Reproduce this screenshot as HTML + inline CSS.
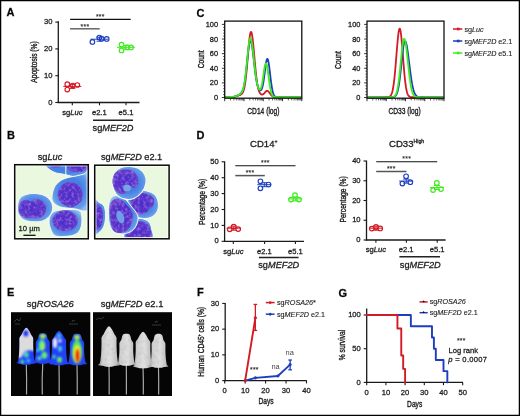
<!DOCTYPE html>
<html><head><meta charset="utf-8"><style>
html,body{margin:0;padding:0;background:#fff;}
svg{display:block;will-change:transform;filter:blur(0.3px);}
text{font-family:"Liberation Sans",sans-serif;stroke:#222;stroke-width:0.28px;}
</style></head><body>
<svg width="520" height="416" viewBox="0 0 520 416">
<rect width="520" height="416" fill="#fff"/>
<text x="6.50" y="16.10" font-size="11.0" text-anchor="start" font-weight="bold" fill="#000"  >A</text>
<text x="7.00" y="139.00" font-size="11.0" text-anchor="start" font-weight="bold" fill="#000"  >B</text>
<text x="196.40" y="16.80" font-size="11.0" text-anchor="start" font-weight="bold" fill="#000"  >C</text>
<text x="196.60" y="139.00" font-size="11.0" text-anchor="start" font-weight="bold" fill="#000"  >D</text>
<text x="7.00" y="296.10" font-size="11.0" text-anchor="start" font-weight="bold" fill="#000"  >E</text>
<text x="196.90" y="296.10" font-size="11.0" text-anchor="start" font-weight="bold" fill="#000"  >F</text>
<text x="338.40" y="296.50" font-size="11.0" text-anchor="start" font-weight="bold" fill="#000"  >G</text>
<line x1="58.30" y1="21.20" x2="58.30" y2="103.10" stroke="#1a1a1a" stroke-width="1.3" />
<line x1="57.70" y1="102.50" x2="139.50" y2="102.50" stroke="#1a1a1a" stroke-width="1.3" />
<line x1="55.30" y1="102.50" x2="58.30" y2="102.50" stroke="#1a1a1a" stroke-width="1.1" />
<text x="52.40" y="104.60" font-size="7.6" text-anchor="end" font-weight="normal" fill="#1a1a1a"  >0</text>
<line x1="55.30" y1="75.70" x2="58.30" y2="75.70" stroke="#1a1a1a" stroke-width="1.1" />
<text x="52.40" y="77.80" font-size="7.6" text-anchor="end" font-weight="normal" fill="#1a1a1a"  >10</text>
<line x1="55.30" y1="48.90" x2="58.30" y2="48.90" stroke="#1a1a1a" stroke-width="1.1" />
<text x="52.40" y="51.00" font-size="7.6" text-anchor="end" font-weight="normal" fill="#1a1a1a"  >20</text>
<line x1="55.30" y1="22.10" x2="58.30" y2="22.10" stroke="#1a1a1a" stroke-width="1.1" />
<text x="52.40" y="24.20" font-size="7.6" text-anchor="end" font-weight="normal" fill="#1a1a1a"  >30</text>
<line x1="72.30" y1="102.50" x2="72.30" y2="105.30" stroke="#1a1a1a" stroke-width="1.1" />
<line x1="99.50" y1="102.50" x2="99.50" y2="105.30" stroke="#1a1a1a" stroke-width="1.1" />
<line x1="126.00" y1="102.50" x2="126.00" y2="105.30" stroke="#1a1a1a" stroke-width="1.1" />
<text x="72.30" y="115.20" font-size="7.6" text-anchor="middle" font-weight="normal" fill="#1a1a1a"  >sg<tspan font-style="italic">Luc</tspan></text>
<text x="99.30" y="115.20" font-size="7.6" text-anchor="middle" font-weight="normal" fill="#1a1a1a"  >e2.1</text>
<text x="126.00" y="115.20" font-size="7.6" text-anchor="middle" font-weight="normal" fill="#1a1a1a"  >e5.1</text>
<line x1="93.00" y1="120.20" x2="133.00" y2="120.20" stroke="#222" stroke-width="1.5" />
<text x="113.00" y="130.60" font-size="9.2" text-anchor="middle" font-weight="normal" fill="#1a1a1a"  >sg<tspan font-style="italic">MEF2D</tspan></text>
<text transform="translate(36.90,62.00) rotate(-90) scale(0.68,1)" font-size="9.8" text-anchor="middle" fill="#1a1a1a" style="stroke-width:0.4px">Apoptosis (%)</text>
<line x1="70.10" y1="19.40" x2="130.70" y2="19.40" stroke="#111" stroke-width="1.1" />
<line x1="70.10" y1="28.80" x2="99.70" y2="28.80" stroke="#666" stroke-width="1.5" />
<text x="100.30" y="18.60" font-size="6.8" text-anchor="middle" font-weight="normal" fill="#222"  letter-spacing="0.3" style="stroke-width:0.1px">***</text>
<text x="85.00" y="28.60" font-size="6.8" text-anchor="middle" font-weight="normal" fill="#222"  letter-spacing="0.3" style="stroke-width:0.1px">***</text>
<circle cx="67.30" cy="84.20" r="2.3" stroke="#d41a24" stroke-width="1.15" fill="none"/>
<circle cx="67.30" cy="89.60" r="2.3" stroke="#d41a24" stroke-width="1.15" fill="none"/>
<circle cx="72.70" cy="85.60" r="2.3" stroke="#d41a24" stroke-width="1.15" fill="none"/>
<circle cx="77.30" cy="85.00" r="2.3" stroke="#d41a24" stroke-width="1.15" fill="none"/>
<line x1="63.30" y1="86.40" x2="81.30" y2="86.40" stroke="#d41a24" stroke-width="1.0" />
<line x1="72.30" y1="84.40" x2="72.30" y2="88.40" stroke="#d41a24" stroke-width="1.0" />
<line x1="69.30" y1="84.40" x2="75.30" y2="84.40" stroke="#d41a24" stroke-width="1.0" />
<line x1="69.30" y1="88.40" x2="75.30" y2="88.40" stroke="#d41a24" stroke-width="1.0" />
<circle cx="92.40" cy="41.90" r="2.3" stroke="#1d3fbf" stroke-width="1.15" fill="none"/>
<circle cx="99.30" cy="37.50" r="2.3" stroke="#1d3fbf" stroke-width="1.15" fill="none"/>
<circle cx="101.60" cy="38.70" r="2.3" stroke="#1d3fbf" stroke-width="1.15" fill="none"/>
<circle cx="106.70" cy="38.90" r="2.3" stroke="#1d3fbf" stroke-width="1.15" fill="none"/>
<line x1="90.50" y1="39.20" x2="108.50" y2="39.20" stroke="#1d3fbf" stroke-width="1.0" />
<line x1="99.50" y1="37.20" x2="99.50" y2="41.20" stroke="#1d3fbf" stroke-width="1.0" />
<line x1="96.50" y1="37.20" x2="102.50" y2="37.20" stroke="#1d3fbf" stroke-width="1.0" />
<line x1="96.50" y1="41.20" x2="102.50" y2="41.20" stroke="#1d3fbf" stroke-width="1.0" />
<circle cx="121.50" cy="44.60" r="2.3" stroke="#3eec1c" stroke-width="1.15" fill="none"/>
<circle cx="121.50" cy="50.40" r="2.3" stroke="#3eec1c" stroke-width="1.15" fill="none"/>
<circle cx="127.30" cy="47.40" r="2.3" stroke="#3eec1c" stroke-width="1.15" fill="none"/>
<circle cx="131.00" cy="47.40" r="2.3" stroke="#3eec1c" stroke-width="1.15" fill="none"/>
<line x1="117.00" y1="47.30" x2="135.00" y2="47.30" stroke="#3eec1c" stroke-width="1.0" />
<line x1="126.00" y1="45.30" x2="126.00" y2="49.30" stroke="#3eec1c" stroke-width="1.0" />
<line x1="123.00" y1="45.30" x2="129.00" y2="45.30" stroke="#3eec1c" stroke-width="1.0" />
<line x1="123.00" y1="49.30" x2="129.00" y2="49.30" stroke="#3eec1c" stroke-width="1.0" />
<path d="M225.70,97.06 L226.20,97.06 L226.70,97.06 L227.20,97.06 L227.70,97.06 L228.20,97.06 L228.70,97.05 L229.20,97.05 L229.70,97.04 L230.20,97.03 L230.70,97.02 L231.20,97.00 L231.70,96.98 L232.20,96.95 L232.70,96.91 L233.20,96.87 L233.70,96.81 L234.20,96.73 L234.70,96.65 L235.20,96.54 L235.70,96.43 L236.20,96.29 L236.70,96.15 L237.20,95.99 L237.70,95.82 L238.20,95.64 L238.70,95.46 L239.20,95.27 L239.70,95.08 L240.20,94.86 L240.70,94.62 L241.20,94.31 L241.70,93.92 L242.20,93.39 L242.70,92.65 L243.20,91.63 L243.70,90.24 L244.20,88.37 L244.70,85.95 L245.20,82.88 L245.70,79.13 L246.20,74.68 L246.70,69.59 L247.20,63.98 L247.70,58.04 L248.20,52.03 L248.70,46.27 L249.20,41.08 L249.70,36.80 L250.20,33.72 L250.70,32.06 L251.20,31.92 L251.70,33.19 L252.20,35.75 L252.70,39.45 L253.20,44.05 L253.70,49.28 L254.20,54.88 L254.70,60.55 L255.20,66.06 L255.70,71.21 L256.20,75.86 L256.70,79.92 L257.20,83.36 L257.70,86.19 L258.20,88.47 L258.70,90.26 L259.20,91.64 L259.70,92.68 L260.20,93.44 L260.70,93.99 L261.20,94.35 L261.70,94.54 L262.20,94.58 L262.70,94.46 L263.20,94.20 L263.70,93.80 L264.20,93.30 L264.70,92.72 L265.20,92.13 L265.70,91.58 L266.20,91.14 L266.70,90.86 L267.20,90.78 L267.70,90.92 L268.20,91.26 L268.70,91.78 L269.20,92.43 L269.70,93.14 L270.20,93.86 L270.70,94.55 L271.20,95.16 L271.70,95.67 L272.20,96.08 L272.70,96.40 L273.20,96.63 L273.70,96.79 L274.20,96.90 L274.70,96.96 L275.20,97.01 L275.70,97.03 L276.20,97.05 L276.70,97.05 L277.20,97.06 L277.70,97.06 L278.20,97.06 L278.70,97.06 L279.20,97.06 L279.70,97.06 L280.20,97.06 L280.70,97.06 L281.20,97.06 L281.70,97.06 L282.20,97.06 L282.70,97.06 L283.20,97.06 L283.70,97.06 L284.20,97.06 L284.70,97.06 L285.20,97.06 L285.70,97.06 L286.20,97.06 L286.70,97.06 L287.20,97.06 L287.70,97.06 L288.20,97.06 L288.70,97.06 L289.20,97.06 L289.70,97.06 L290.20,97.06 L290.70,97.06 L291.20,97.06 L291.70,97.06 L292.20,97.06 L292.70,97.06 L293.20,97.06 L293.70,97.06 L294.20,97.06 L294.70,97.06 L295.20,97.06 L295.70,97.06 L296.20,97.06 L296.70,97.06 L297.20,97.06 L297.70,97.06 L298.20,97.06 L298.70,97.06 L299.20,97.06 L299.70,97.06 L300.20,97.06 L300.70,97.06" stroke="#d41a24" stroke-width="1.8" fill="none" stroke-linejoin="round" stroke-linecap="round" />
<path d="M225.70,97.06 L226.20,97.06 L226.70,97.06 L227.20,97.06 L227.70,97.06 L228.20,97.05 L228.70,97.05 L229.20,97.04 L229.70,97.04 L230.20,97.02 L230.70,97.01 L231.20,96.99 L231.70,96.96 L232.20,96.92 L232.70,96.87 L233.20,96.80 L233.70,96.72 L234.20,96.62 L234.70,96.51 L235.20,96.37 L235.70,96.21 L236.20,96.03 L236.70,95.84 L237.20,95.62 L237.70,95.39 L238.20,95.14 L238.70,94.88 L239.20,94.60 L239.70,94.29 L240.20,93.94 L240.70,93.54 L241.20,93.04 L241.70,92.40 L242.20,91.57 L242.70,90.48 L243.20,89.06 L243.70,87.22 L244.20,84.91 L244.70,82.07 L245.20,78.67 L245.70,74.74 L246.20,70.33 L246.70,65.57 L247.20,60.63 L247.70,55.72 L248.20,51.10 L248.70,47.04 L249.20,43.77 L249.70,41.53 L250.20,40.46 L250.70,40.59 L251.20,41.79 L251.70,43.95 L252.20,46.95 L252.70,50.63 L253.20,54.78 L253.70,59.19 L254.20,63.68 L254.70,68.04 L255.20,72.13 L255.70,75.84 L256.20,79.10 L256.70,81.88 L257.20,84.19 L257.70,86.05 L258.20,87.52 L258.70,88.65 L259.20,89.48 L259.70,90.03 L260.20,90.31 L260.70,90.28 L261.20,89.91 L261.70,89.10 L262.20,87.78 L262.70,85.88 L263.20,83.38 L263.70,80.28 L264.20,76.70 L264.70,72.81 L265.20,68.88 L265.70,65.21 L266.20,62.13 L266.70,59.95 L267.20,58.91 L267.70,59.12 L268.20,60.57 L268.70,63.14 L269.20,66.58 L269.70,70.59 L270.20,74.84 L270.70,79.04 L271.20,82.94 L271.70,86.36 L272.20,89.23 L272.70,91.52 L273.20,93.28 L273.70,94.56 L274.20,95.47 L274.70,96.08 L275.20,96.48 L275.70,96.72 L276.20,96.87 L276.70,96.96 L277.20,97.01 L277.70,97.04 L278.20,97.05 L278.70,97.06 L279.20,97.06 L279.70,97.06 L280.20,97.06 L280.70,97.06 L281.20,97.06 L281.70,97.06 L282.20,97.06 L282.70,97.06 L283.20,97.06 L283.70,97.06 L284.20,97.06 L284.70,97.06 L285.20,97.06 L285.70,97.06 L286.20,97.06 L286.70,97.06 L287.20,97.06 L287.70,97.06 L288.20,97.06 L288.70,97.06 L289.20,97.06 L289.70,97.06 L290.20,97.06 L290.70,97.06 L291.20,97.06 L291.70,97.06 L292.20,97.06 L292.70,97.06 L293.20,97.06 L293.70,97.06 L294.20,97.06 L294.70,97.06 L295.20,97.06 L295.70,97.06 L296.20,97.06 L296.70,97.06 L297.20,97.06 L297.70,97.06 L298.20,97.06 L298.70,97.06 L299.20,97.06 L299.70,97.06 L300.20,97.06 L300.70,97.06" stroke="#1d3fbf" stroke-width="1.8" fill="none" stroke-linejoin="round" stroke-linecap="round" />
<path d="M225.70,97.06 L226.20,97.06 L226.70,97.06 L227.20,97.06 L227.70,97.06 L228.20,97.05 L228.70,97.05 L229.20,97.04 L229.70,97.04 L230.20,97.02 L230.70,97.01 L231.20,96.99 L231.70,96.96 L232.20,96.92 L232.70,96.87 L233.20,96.80 L233.70,96.72 L234.20,96.62 L234.70,96.51 L235.20,96.37 L235.70,96.21 L236.20,96.03 L236.70,95.84 L237.20,95.62 L237.70,95.39 L238.20,95.14 L238.70,94.87 L239.20,94.59 L239.70,94.28 L240.20,93.93 L240.70,93.51 L241.20,93.00 L241.70,92.34 L242.20,91.47 L242.70,90.34 L243.20,88.85 L243.70,86.94 L244.20,84.54 L244.70,81.58 L245.20,78.04 L245.70,73.95 L246.20,69.36 L246.70,64.40 L247.20,59.26 L247.70,54.15 L248.20,49.35 L248.70,45.12 L249.20,41.73 L249.70,39.39 L250.20,38.28 L250.70,38.43 L251.20,39.68 L251.70,41.93 L252.20,45.06 L252.70,48.89 L253.20,53.22 L253.70,57.83 L254.20,62.51 L254.70,67.08 L255.20,71.36 L255.70,75.26 L256.20,78.69 L256.70,81.63 L257.20,84.07 L257.70,86.04 L258.20,87.57 L258.70,88.67 L259.20,89.37 L259.70,89.64 L260.20,89.46 L260.70,88.76 L261.20,87.50 L261.70,85.63 L262.20,83.16 L262.70,80.16 L263.20,76.76 L263.70,73.19 L264.20,69.75 L264.70,66.76 L265.20,64.55 L265.70,63.35 L266.20,63.33 L266.70,64.49 L267.20,66.74 L267.70,69.85 L268.20,73.52 L268.70,77.43 L269.20,81.28 L269.70,84.84 L270.20,87.94 L270.70,90.50 L271.20,92.51 L271.70,94.02 L272.20,95.10 L272.70,95.85 L273.20,96.33 L273.70,96.64 L274.20,96.83 L274.70,96.94 L275.20,97.00 L275.70,97.03 L276.20,97.05 L276.70,97.05 L277.20,97.06 L277.70,97.06 L278.20,97.06 L278.70,97.06 L279.20,97.06 L279.70,97.06 L280.20,97.06 L280.70,97.06 L281.20,97.06 L281.70,97.06 L282.20,97.06 L282.70,97.06 L283.20,97.06 L283.70,97.06 L284.20,97.06 L284.70,97.06 L285.20,97.06 L285.70,97.06 L286.20,97.06 L286.70,97.06 L287.20,97.06 L287.70,97.06 L288.20,97.06 L288.70,97.06 L289.20,97.06 L289.70,97.06 L290.20,97.06 L290.70,97.06 L291.20,97.06 L291.70,97.06 L292.20,97.06 L292.70,97.06 L293.20,97.06 L293.70,97.06 L294.20,97.06 L294.70,97.06 L295.20,97.06 L295.70,97.06 L296.20,97.06 L296.70,97.06 L297.20,97.06 L297.70,97.06 L298.20,97.06 L298.70,97.06 L299.20,97.06 L299.70,97.06 L300.20,97.06 L300.70,97.06" stroke="#3eec1c" stroke-width="1.8" fill="none" stroke-linejoin="round" stroke-linecap="round" />
<rect x="224.7" y="21.1" width="77.10000000000002" height="77.1" fill="none" stroke="#111" stroke-width="1.3"/>
<line x1="221.90" y1="97.50" x2="224.70" y2="97.50" stroke="#1a1a1a" stroke-width="0.9" />
<text x="218.10" y="100.00" font-size="7.4" text-anchor="end" font-weight="normal" fill="#1a1a1a"  >0</text>
<line x1="223.10" y1="94.58" x2="224.70" y2="94.58" stroke="#1a1a1a" stroke-width="0.7" />
<line x1="223.10" y1="91.65" x2="224.70" y2="91.65" stroke="#1a1a1a" stroke-width="0.7" />
<line x1="223.10" y1="88.73" x2="224.70" y2="88.73" stroke="#1a1a1a" stroke-width="0.7" />
<line x1="223.10" y1="85.80" x2="224.70" y2="85.80" stroke="#1a1a1a" stroke-width="0.7" />
<line x1="221.90" y1="82.88" x2="224.70" y2="82.88" stroke="#1a1a1a" stroke-width="0.9" />
<text x="218.10" y="85.38" font-size="7.4" text-anchor="end" font-weight="normal" fill="#1a1a1a"  >20</text>
<line x1="223.10" y1="79.96" x2="224.70" y2="79.96" stroke="#1a1a1a" stroke-width="0.7" />
<line x1="223.10" y1="77.03" x2="224.70" y2="77.03" stroke="#1a1a1a" stroke-width="0.7" />
<line x1="223.10" y1="74.11" x2="224.70" y2="74.11" stroke="#1a1a1a" stroke-width="0.7" />
<line x1="223.10" y1="71.18" x2="224.70" y2="71.18" stroke="#1a1a1a" stroke-width="0.7" />
<line x1="221.90" y1="68.26" x2="224.70" y2="68.26" stroke="#1a1a1a" stroke-width="0.9" />
<text x="218.10" y="70.76" font-size="7.4" text-anchor="end" font-weight="normal" fill="#1a1a1a"  >40</text>
<line x1="223.10" y1="65.34" x2="224.70" y2="65.34" stroke="#1a1a1a" stroke-width="0.7" />
<line x1="223.10" y1="62.41" x2="224.70" y2="62.41" stroke="#1a1a1a" stroke-width="0.7" />
<line x1="223.10" y1="59.49" x2="224.70" y2="59.49" stroke="#1a1a1a" stroke-width="0.7" />
<line x1="223.10" y1="56.56" x2="224.70" y2="56.56" stroke="#1a1a1a" stroke-width="0.7" />
<line x1="221.90" y1="53.64" x2="224.70" y2="53.64" stroke="#1a1a1a" stroke-width="0.9" />
<text x="218.10" y="56.14" font-size="7.4" text-anchor="end" font-weight="normal" fill="#1a1a1a"  >60</text>
<line x1="223.10" y1="50.72" x2="224.70" y2="50.72" stroke="#1a1a1a" stroke-width="0.7" />
<line x1="223.10" y1="47.79" x2="224.70" y2="47.79" stroke="#1a1a1a" stroke-width="0.7" />
<line x1="223.10" y1="44.87" x2="224.70" y2="44.87" stroke="#1a1a1a" stroke-width="0.7" />
<line x1="223.10" y1="41.94" x2="224.70" y2="41.94" stroke="#1a1a1a" stroke-width="0.7" />
<line x1="221.90" y1="39.02" x2="224.70" y2="39.02" stroke="#1a1a1a" stroke-width="0.9" />
<text x="218.10" y="41.52" font-size="7.4" text-anchor="end" font-weight="normal" fill="#1a1a1a"  >80</text>
<line x1="223.10" y1="36.10" x2="224.70" y2="36.10" stroke="#1a1a1a" stroke-width="0.7" />
<line x1="223.10" y1="33.17" x2="224.70" y2="33.17" stroke="#1a1a1a" stroke-width="0.7" />
<line x1="223.10" y1="30.25" x2="224.70" y2="30.25" stroke="#1a1a1a" stroke-width="0.7" />
<line x1="223.10" y1="27.32" x2="224.70" y2="27.32" stroke="#1a1a1a" stroke-width="0.7" />
<line x1="221.90" y1="24.40" x2="224.70" y2="24.40" stroke="#1a1a1a" stroke-width="0.9" />
<text x="218.10" y="26.90" font-size="7.4" text-anchor="end" font-weight="normal" fill="#1a1a1a"  >100</text>
<line x1="224.70" y1="98.20" x2="224.70" y2="101.20" stroke="#1a1a1a" stroke-width="0.9" />
<line x1="230.50" y1="98.20" x2="230.50" y2="100.40" stroke="#1a1a1a" stroke-width="0.7" />
<line x1="233.90" y1="98.20" x2="233.90" y2="100.40" stroke="#1a1a1a" stroke-width="0.7" />
<line x1="236.30" y1="98.20" x2="236.30" y2="100.40" stroke="#1a1a1a" stroke-width="0.7" />
<line x1="238.17" y1="98.20" x2="238.17" y2="100.40" stroke="#1a1a1a" stroke-width="0.7" />
<line x1="239.70" y1="98.20" x2="239.70" y2="100.40" stroke="#1a1a1a" stroke-width="0.7" />
<line x1="240.99" y1="98.20" x2="240.99" y2="100.40" stroke="#1a1a1a" stroke-width="0.7" />
<line x1="242.11" y1="98.20" x2="242.11" y2="100.40" stroke="#1a1a1a" stroke-width="0.7" />
<line x1="243.09" y1="98.20" x2="243.09" y2="100.40" stroke="#1a1a1a" stroke-width="0.7" />
<line x1="243.97" y1="98.20" x2="243.97" y2="101.20" stroke="#1a1a1a" stroke-width="0.9" />
<line x1="249.78" y1="98.20" x2="249.78" y2="100.40" stroke="#1a1a1a" stroke-width="0.7" />
<line x1="253.17" y1="98.20" x2="253.17" y2="100.40" stroke="#1a1a1a" stroke-width="0.7" />
<line x1="255.58" y1="98.20" x2="255.58" y2="100.40" stroke="#1a1a1a" stroke-width="0.7" />
<line x1="257.45" y1="98.20" x2="257.45" y2="100.40" stroke="#1a1a1a" stroke-width="0.7" />
<line x1="258.97" y1="98.20" x2="258.97" y2="100.40" stroke="#1a1a1a" stroke-width="0.7" />
<line x1="260.26" y1="98.20" x2="260.26" y2="100.40" stroke="#1a1a1a" stroke-width="0.7" />
<line x1="261.38" y1="98.20" x2="261.38" y2="100.40" stroke="#1a1a1a" stroke-width="0.7" />
<line x1="262.37" y1="98.20" x2="262.37" y2="100.40" stroke="#1a1a1a" stroke-width="0.7" />
<line x1="263.25" y1="98.20" x2="263.25" y2="101.20" stroke="#1a1a1a" stroke-width="0.9" />
<line x1="269.05" y1="98.20" x2="269.05" y2="100.40" stroke="#1a1a1a" stroke-width="0.7" />
<line x1="272.45" y1="98.20" x2="272.45" y2="100.40" stroke="#1a1a1a" stroke-width="0.7" />
<line x1="274.85" y1="98.20" x2="274.85" y2="100.40" stroke="#1a1a1a" stroke-width="0.7" />
<line x1="276.72" y1="98.20" x2="276.72" y2="100.40" stroke="#1a1a1a" stroke-width="0.7" />
<line x1="278.25" y1="98.20" x2="278.25" y2="100.40" stroke="#1a1a1a" stroke-width="0.7" />
<line x1="279.54" y1="98.20" x2="279.54" y2="100.40" stroke="#1a1a1a" stroke-width="0.7" />
<line x1="280.66" y1="98.20" x2="280.66" y2="100.40" stroke="#1a1a1a" stroke-width="0.7" />
<line x1="281.64" y1="98.20" x2="281.64" y2="100.40" stroke="#1a1a1a" stroke-width="0.7" />
<line x1="282.52" y1="98.20" x2="282.52" y2="101.20" stroke="#1a1a1a" stroke-width="0.9" />
<line x1="288.33" y1="98.20" x2="288.33" y2="100.40" stroke="#1a1a1a" stroke-width="0.7" />
<line x1="291.72" y1="98.20" x2="291.72" y2="100.40" stroke="#1a1a1a" stroke-width="0.7" />
<line x1="294.13" y1="98.20" x2="294.13" y2="100.40" stroke="#1a1a1a" stroke-width="0.7" />
<line x1="296.00" y1="98.20" x2="296.00" y2="100.40" stroke="#1a1a1a" stroke-width="0.7" />
<line x1="297.52" y1="98.20" x2="297.52" y2="100.40" stroke="#1a1a1a" stroke-width="0.7" />
<line x1="298.81" y1="98.20" x2="298.81" y2="100.40" stroke="#1a1a1a" stroke-width="0.7" />
<line x1="299.93" y1="98.20" x2="299.93" y2="100.40" stroke="#1a1a1a" stroke-width="0.7" />
<line x1="300.92" y1="98.20" x2="300.92" y2="100.40" stroke="#1a1a1a" stroke-width="0.7" />
<line x1="301.80" y1="98.20" x2="301.80" y2="101.20" stroke="#1a1a1a" stroke-width="0.9" />
<text transform="translate(203.80,59.40) rotate(-90) scale(0.68,1)" font-size="9.8" text-anchor="middle" fill="#1a1a1a" style="stroke-width:0.4px">Count</text>
<text transform="translate(263.40,113.60) scale(0.68,1)" font-size="9.8" text-anchor="middle" fill="#1a1a1a" style="stroke-width:0.4px">CD14 (log)</text>
<path d="M368.00,97.28 L368.50,97.28 L369.00,97.28 L369.50,97.28 L370.00,97.28 L370.50,97.28 L371.00,97.28 L371.50,97.28 L372.00,97.28 L372.50,97.28 L373.00,97.28 L373.50,97.28 L374.00,97.28 L374.50,97.28 L375.00,97.28 L375.50,97.28 L376.00,97.28 L376.50,97.28 L377.00,97.28 L377.50,97.28 L378.00,97.28 L378.50,97.28 L379.00,97.28 L379.50,97.28 L380.00,97.28 L380.50,97.28 L381.00,97.28 L381.50,97.28 L382.00,97.28 L382.50,97.28 L383.00,97.28 L383.50,97.28 L384.00,97.28 L384.50,97.28 L385.00,97.28 L385.50,97.27 L386.00,97.27 L386.50,97.26 L387.00,97.24 L387.50,97.21 L388.00,97.15 L388.50,97.06 L389.00,96.92 L389.50,96.70 L390.00,96.37 L390.50,95.87 L391.00,95.15 L391.50,94.15 L392.00,92.76 L392.50,90.92 L393.00,88.53 L393.50,85.52 L394.00,81.82 L394.50,77.43 L395.00,72.36 L395.50,66.71 L396.00,60.63 L396.50,54.34 L397.00,48.11 L397.50,42.26 L398.00,37.11 L398.50,32.96 L399.00,30.10 L399.50,28.69 L400.00,28.87 L400.50,30.68 L401.00,34.01 L401.50,38.62 L402.00,44.21 L402.50,50.42 L403.00,56.91 L403.50,63.33 L404.00,69.42 L404.50,74.97 L405.00,79.85 L405.50,83.99 L406.00,87.39 L406.50,90.09 L407.00,92.19 L407.50,93.76 L408.00,94.90 L408.50,95.71 L409.00,96.27 L409.50,96.65 L410.00,96.89 L410.50,97.05 L411.00,97.15 L411.50,97.20 L412.00,97.24 L412.50,97.26 L413.00,97.27 L413.50,97.27 L414.00,97.28 L414.50,97.28 L415.00,97.28 L415.50,97.28 L416.00,97.28 L416.50,97.28 L417.00,97.28 L417.50,97.28 L418.00,97.28 L418.50,97.28 L419.00,97.28 L419.50,97.28 L420.00,97.28 L420.50,97.28 L421.00,97.28 L421.50,97.28 L422.00,97.28 L422.50,97.28 L423.00,97.28 L423.50,97.28 L424.00,97.28 L424.50,97.28 L425.00,97.28 L425.50,97.28 L426.00,97.28 L426.50,97.28 L427.00,97.28 L427.50,97.28 L428.00,97.28 L428.50,97.28 L429.00,97.28 L429.50,97.28 L430.00,97.28 L430.50,97.28 L431.00,97.28 L431.50,97.28 L432.00,97.28 L432.50,97.28 L433.00,97.28 L433.50,97.28 L434.00,97.28 L434.50,97.28 L435.00,97.28 L435.50,97.28 L436.00,97.28 L436.50,97.28 L437.00,97.28 L437.50,97.28 L438.00,97.28 L438.50,97.28 L439.00,97.28 L439.50,97.28 L440.00,97.28 L440.50,97.28 L441.00,97.28 L441.50,97.28 L442.00,97.28 L442.50,97.28 L443.00,97.28" stroke="#d41a24" stroke-width="1.8" fill="none" stroke-linejoin="round" stroke-linecap="round" />
<path d="M368.00,97.28 L368.50,97.28 L369.00,97.28 L369.50,97.28 L370.00,97.28 L370.50,97.28 L371.00,97.28 L371.50,97.28 L372.00,97.28 L372.50,97.28 L373.00,97.28 L373.50,97.28 L374.00,97.28 L374.50,97.28 L375.00,97.28 L375.50,97.28 L376.00,97.28 L376.50,97.28 L377.00,97.28 L377.50,97.28 L378.00,97.28 L378.50,97.28 L379.00,97.28 L379.50,97.28 L380.00,97.28 L380.50,97.28 L381.00,97.28 L381.50,97.28 L382.00,97.28 L382.50,97.28 L383.00,97.28 L383.50,97.28 L384.00,97.28 L384.50,97.28 L385.00,97.28 L385.50,97.28 L386.00,97.28 L386.50,97.28 L387.00,97.28 L387.50,97.28 L388.00,97.28 L388.50,97.28 L389.00,97.28 L389.50,97.28 L390.00,97.27 L390.50,97.27 L391.00,97.26 L391.50,97.25 L392.00,97.22 L392.50,97.19 L393.00,97.12 L393.50,97.03 L394.00,96.88 L394.50,96.66 L395.00,96.33 L395.50,95.87 L396.00,95.22 L396.50,94.33 L397.00,93.15 L397.50,91.61 L398.00,89.66 L398.50,87.25 L399.00,84.33 L399.50,80.91 L400.00,76.99 L400.50,72.65 L401.00,67.99 L401.50,63.14 L402.00,58.30 L402.50,53.67 L403.00,49.47 L403.50,45.93 L404.00,43.24 L404.50,41.57 L405.00,40.99 L405.50,41.39 L406.00,42.57 L406.50,44.47 L407.00,47.03 L407.50,50.13 L408.00,53.67 L408.50,57.51 L409.00,61.52 L409.50,65.58 L410.00,69.57 L410.50,73.40 L411.00,76.99 L411.50,80.29 L412.00,83.25 L412.50,85.85 L413.00,88.11 L413.50,90.02 L414.00,91.61 L414.50,92.92 L415.00,93.97 L415.50,94.81 L416.00,95.46 L416.50,95.96 L417.00,96.33 L417.50,96.61 L418.00,96.81 L418.50,96.96 L419.00,97.06 L419.50,97.14 L420.00,97.19 L420.50,97.22 L421.00,97.24 L421.50,97.26 L422.00,97.27 L422.50,97.27 L423.00,97.27 L423.50,97.28 L424.00,97.28 L424.50,97.28 L425.00,97.28 L425.50,97.28 L426.00,97.28 L426.50,97.28 L427.00,97.28 L427.50,97.28 L428.00,97.28 L428.50,97.28 L429.00,97.28 L429.50,97.28 L430.00,97.28 L430.50,97.28 L431.00,97.28 L431.50,97.28 L432.00,97.28 L432.50,97.28 L433.00,97.28 L433.50,97.28 L434.00,97.28 L434.50,97.28 L435.00,97.28 L435.50,97.28 L436.00,97.28 L436.50,97.28 L437.00,97.28 L437.50,97.28 L438.00,97.28 L438.50,97.28 L439.00,97.28 L439.50,97.28 L440.00,97.28 L440.50,97.28 L441.00,97.28 L441.50,97.28 L442.00,97.28 L442.50,97.28 L443.00,97.28" stroke="#1d3fbf" stroke-width="1.8" fill="none" stroke-linejoin="round" stroke-linecap="round" />
<path d="M368.00,97.28 L368.50,97.28 L369.00,97.28 L369.50,97.28 L370.00,97.28 L370.50,97.28 L371.00,97.28 L371.50,97.28 L372.00,97.28 L372.50,97.28 L373.00,97.28 L373.50,97.28 L374.00,97.28 L374.50,97.28 L375.00,97.28 L375.50,97.28 L376.00,97.28 L376.50,97.28 L377.00,97.28 L377.50,97.28 L378.00,97.28 L378.50,97.28 L379.00,97.28 L379.50,97.28 L380.00,97.28 L380.50,97.28 L381.00,97.28 L381.50,97.28 L382.00,97.28 L382.50,97.28 L383.00,97.28 L383.50,97.28 L384.00,97.28 L384.50,97.28 L385.00,97.28 L385.50,97.28 L386.00,97.28 L386.50,97.28 L387.00,97.28 L387.50,97.28 L388.00,97.28 L388.50,97.28 L389.00,97.28 L389.50,97.28 L390.00,97.27 L390.50,97.26 L391.00,97.25 L391.50,97.23 L392.00,97.19 L392.50,97.12 L393.00,97.02 L393.50,96.87 L394.00,96.63 L394.50,96.28 L395.00,95.78 L395.50,95.07 L396.00,94.09 L396.50,92.78 L397.00,91.07 L397.50,88.89 L398.00,86.19 L398.50,82.94 L399.00,79.12 L399.50,74.79 L400.00,70.01 L400.50,64.93 L401.00,59.73 L401.50,54.62 L402.00,49.85 L402.50,45.67 L403.00,42.33 L403.50,40.03 L404.00,38.90 L404.50,38.99 L405.00,40.15 L405.50,42.30 L406.00,45.33 L406.50,49.07 L407.00,53.36 L407.50,57.99 L408.00,62.77 L408.50,67.51 L409.00,72.07 L409.50,76.32 L410.00,80.16 L410.50,83.56 L411.00,86.48 L411.50,88.93 L412.00,90.94 L412.50,92.56 L413.00,93.82 L413.50,94.80 L414.00,95.53 L414.50,96.07 L415.00,96.45 L415.50,96.73 L416.00,96.92 L416.50,97.05 L417.00,97.13 L417.50,97.19 L418.00,97.22 L418.50,97.25 L419.00,97.26 L419.50,97.27 L420.00,97.27 L420.50,97.28 L421.00,97.28 L421.50,97.28 L422.00,97.28 L422.50,97.28 L423.00,97.28 L423.50,97.28 L424.00,97.28 L424.50,97.28 L425.00,97.28 L425.50,97.28 L426.00,97.28 L426.50,97.28 L427.00,97.28 L427.50,97.28 L428.00,97.28 L428.50,97.28 L429.00,97.28 L429.50,97.28 L430.00,97.28 L430.50,97.28 L431.00,97.28 L431.50,97.28 L432.00,97.28 L432.50,97.28 L433.00,97.28 L433.50,97.28 L434.00,97.28 L434.50,97.28 L435.00,97.28 L435.50,97.28 L436.00,97.28 L436.50,97.28 L437.00,97.28 L437.50,97.28 L438.00,97.28 L438.50,97.28 L439.00,97.28 L439.50,97.28 L440.00,97.28 L440.50,97.28 L441.00,97.28 L441.50,97.28 L442.00,97.28 L442.50,97.28 L443.00,97.28" stroke="#3eec1c" stroke-width="1.8" fill="none" stroke-linejoin="round" stroke-linecap="round" />
<rect x="367.0" y="21.1" width="77.0" height="77.1" fill="none" stroke="#111" stroke-width="1.3"/>
<line x1="364.20" y1="97.50" x2="367.00" y2="97.50" stroke="#1a1a1a" stroke-width="0.9" />
<text x="360.40" y="100.00" font-size="7.4" text-anchor="end" font-weight="normal" fill="#1a1a1a"  >0</text>
<line x1="365.40" y1="94.58" x2="367.00" y2="94.58" stroke="#1a1a1a" stroke-width="0.7" />
<line x1="365.40" y1="91.65" x2="367.00" y2="91.65" stroke="#1a1a1a" stroke-width="0.7" />
<line x1="365.40" y1="88.73" x2="367.00" y2="88.73" stroke="#1a1a1a" stroke-width="0.7" />
<line x1="365.40" y1="85.80" x2="367.00" y2="85.80" stroke="#1a1a1a" stroke-width="0.7" />
<line x1="364.20" y1="82.88" x2="367.00" y2="82.88" stroke="#1a1a1a" stroke-width="0.9" />
<text x="360.40" y="85.38" font-size="7.4" text-anchor="end" font-weight="normal" fill="#1a1a1a"  >20</text>
<line x1="365.40" y1="79.96" x2="367.00" y2="79.96" stroke="#1a1a1a" stroke-width="0.7" />
<line x1="365.40" y1="77.03" x2="367.00" y2="77.03" stroke="#1a1a1a" stroke-width="0.7" />
<line x1="365.40" y1="74.11" x2="367.00" y2="74.11" stroke="#1a1a1a" stroke-width="0.7" />
<line x1="365.40" y1="71.18" x2="367.00" y2="71.18" stroke="#1a1a1a" stroke-width="0.7" />
<line x1="364.20" y1="68.26" x2="367.00" y2="68.26" stroke="#1a1a1a" stroke-width="0.9" />
<text x="360.40" y="70.76" font-size="7.4" text-anchor="end" font-weight="normal" fill="#1a1a1a"  >40</text>
<line x1="365.40" y1="65.34" x2="367.00" y2="65.34" stroke="#1a1a1a" stroke-width="0.7" />
<line x1="365.40" y1="62.41" x2="367.00" y2="62.41" stroke="#1a1a1a" stroke-width="0.7" />
<line x1="365.40" y1="59.49" x2="367.00" y2="59.49" stroke="#1a1a1a" stroke-width="0.7" />
<line x1="365.40" y1="56.56" x2="367.00" y2="56.56" stroke="#1a1a1a" stroke-width="0.7" />
<line x1="364.20" y1="53.64" x2="367.00" y2="53.64" stroke="#1a1a1a" stroke-width="0.9" />
<text x="360.40" y="56.14" font-size="7.4" text-anchor="end" font-weight="normal" fill="#1a1a1a"  >60</text>
<line x1="365.40" y1="50.72" x2="367.00" y2="50.72" stroke="#1a1a1a" stroke-width="0.7" />
<line x1="365.40" y1="47.79" x2="367.00" y2="47.79" stroke="#1a1a1a" stroke-width="0.7" />
<line x1="365.40" y1="44.87" x2="367.00" y2="44.87" stroke="#1a1a1a" stroke-width="0.7" />
<line x1="365.40" y1="41.94" x2="367.00" y2="41.94" stroke="#1a1a1a" stroke-width="0.7" />
<line x1="364.20" y1="39.02" x2="367.00" y2="39.02" stroke="#1a1a1a" stroke-width="0.9" />
<text x="360.40" y="41.52" font-size="7.4" text-anchor="end" font-weight="normal" fill="#1a1a1a"  >80</text>
<line x1="365.40" y1="36.10" x2="367.00" y2="36.10" stroke="#1a1a1a" stroke-width="0.7" />
<line x1="365.40" y1="33.17" x2="367.00" y2="33.17" stroke="#1a1a1a" stroke-width="0.7" />
<line x1="365.40" y1="30.25" x2="367.00" y2="30.25" stroke="#1a1a1a" stroke-width="0.7" />
<line x1="365.40" y1="27.32" x2="367.00" y2="27.32" stroke="#1a1a1a" stroke-width="0.7" />
<line x1="364.20" y1="24.40" x2="367.00" y2="24.40" stroke="#1a1a1a" stroke-width="0.9" />
<text x="360.40" y="26.90" font-size="7.4" text-anchor="end" font-weight="normal" fill="#1a1a1a"  >100</text>
<line x1="367.00" y1="98.20" x2="367.00" y2="101.20" stroke="#1a1a1a" stroke-width="0.9" />
<line x1="372.79" y1="98.20" x2="372.79" y2="100.40" stroke="#1a1a1a" stroke-width="0.7" />
<line x1="376.18" y1="98.20" x2="376.18" y2="100.40" stroke="#1a1a1a" stroke-width="0.7" />
<line x1="378.59" y1="98.20" x2="378.59" y2="100.40" stroke="#1a1a1a" stroke-width="0.7" />
<line x1="380.46" y1="98.20" x2="380.46" y2="100.40" stroke="#1a1a1a" stroke-width="0.7" />
<line x1="381.98" y1="98.20" x2="381.98" y2="100.40" stroke="#1a1a1a" stroke-width="0.7" />
<line x1="383.27" y1="98.20" x2="383.27" y2="100.40" stroke="#1a1a1a" stroke-width="0.7" />
<line x1="384.38" y1="98.20" x2="384.38" y2="100.40" stroke="#1a1a1a" stroke-width="0.7" />
<line x1="385.37" y1="98.20" x2="385.37" y2="100.40" stroke="#1a1a1a" stroke-width="0.7" />
<line x1="386.25" y1="98.20" x2="386.25" y2="101.20" stroke="#1a1a1a" stroke-width="0.9" />
<line x1="392.04" y1="98.20" x2="392.04" y2="100.40" stroke="#1a1a1a" stroke-width="0.7" />
<line x1="395.43" y1="98.20" x2="395.43" y2="100.40" stroke="#1a1a1a" stroke-width="0.7" />
<line x1="397.84" y1="98.20" x2="397.84" y2="100.40" stroke="#1a1a1a" stroke-width="0.7" />
<line x1="399.71" y1="98.20" x2="399.71" y2="100.40" stroke="#1a1a1a" stroke-width="0.7" />
<line x1="401.23" y1="98.20" x2="401.23" y2="100.40" stroke="#1a1a1a" stroke-width="0.7" />
<line x1="402.52" y1="98.20" x2="402.52" y2="100.40" stroke="#1a1a1a" stroke-width="0.7" />
<line x1="403.63" y1="98.20" x2="403.63" y2="100.40" stroke="#1a1a1a" stroke-width="0.7" />
<line x1="404.62" y1="98.20" x2="404.62" y2="100.40" stroke="#1a1a1a" stroke-width="0.7" />
<line x1="405.50" y1="98.20" x2="405.50" y2="101.20" stroke="#1a1a1a" stroke-width="0.9" />
<line x1="411.29" y1="98.20" x2="411.29" y2="100.40" stroke="#1a1a1a" stroke-width="0.7" />
<line x1="414.68" y1="98.20" x2="414.68" y2="100.40" stroke="#1a1a1a" stroke-width="0.7" />
<line x1="417.09" y1="98.20" x2="417.09" y2="100.40" stroke="#1a1a1a" stroke-width="0.7" />
<line x1="418.96" y1="98.20" x2="418.96" y2="100.40" stroke="#1a1a1a" stroke-width="0.7" />
<line x1="420.48" y1="98.20" x2="420.48" y2="100.40" stroke="#1a1a1a" stroke-width="0.7" />
<line x1="421.77" y1="98.20" x2="421.77" y2="100.40" stroke="#1a1a1a" stroke-width="0.7" />
<line x1="422.88" y1="98.20" x2="422.88" y2="100.40" stroke="#1a1a1a" stroke-width="0.7" />
<line x1="423.87" y1="98.20" x2="423.87" y2="100.40" stroke="#1a1a1a" stroke-width="0.7" />
<line x1="424.75" y1="98.20" x2="424.75" y2="101.20" stroke="#1a1a1a" stroke-width="0.9" />
<line x1="430.54" y1="98.20" x2="430.54" y2="100.40" stroke="#1a1a1a" stroke-width="0.7" />
<line x1="433.93" y1="98.20" x2="433.93" y2="100.40" stroke="#1a1a1a" stroke-width="0.7" />
<line x1="436.34" y1="98.20" x2="436.34" y2="100.40" stroke="#1a1a1a" stroke-width="0.7" />
<line x1="438.21" y1="98.20" x2="438.21" y2="100.40" stroke="#1a1a1a" stroke-width="0.7" />
<line x1="439.73" y1="98.20" x2="439.73" y2="100.40" stroke="#1a1a1a" stroke-width="0.7" />
<line x1="441.02" y1="98.20" x2="441.02" y2="100.40" stroke="#1a1a1a" stroke-width="0.7" />
<line x1="442.13" y1="98.20" x2="442.13" y2="100.40" stroke="#1a1a1a" stroke-width="0.7" />
<line x1="443.12" y1="98.20" x2="443.12" y2="100.40" stroke="#1a1a1a" stroke-width="0.7" />
<line x1="444.00" y1="98.20" x2="444.00" y2="101.20" stroke="#1a1a1a" stroke-width="0.9" />
<text transform="translate(340.60,60.00) rotate(-90) scale(0.68,1)" font-size="9.8" text-anchor="middle" fill="#1a1a1a" style="stroke-width:0.4px">Count</text>
<text transform="translate(404.50,113.60) scale(0.68,1)" font-size="9.8" text-anchor="middle" fill="#1a1a1a" style="stroke-width:0.4px">CD33 (log)</text>
<line x1="453.00" y1="29.00" x2="462.30" y2="29.00" stroke="#d41a24" stroke-width="1.5" />
<rect x="456.9" y="27.7" width="2.6" height="2.6" fill="#d41a24"/>
<text x="464.40" y="31.50" font-size="7.2" text-anchor="start" font-weight="normal" fill="#1a1a1a"  style="stroke-width:0.12px">sg<tspan font-style="italic">Luc</tspan></text>
<line x1="453.00" y1="41.00" x2="462.30" y2="41.00" stroke="#1d3fbf" stroke-width="1.5" />
<rect x="456.9" y="39.7" width="2.6" height="2.6" fill="#1d3fbf"/>
<text x="464.40" y="43.50" font-size="7.2" text-anchor="start" font-weight="normal" fill="#1a1a1a"  style="stroke-width:0.12px">sg<tspan font-style="italic">MEF2D</tspan> e2.1</text>
<line x1="453.00" y1="53.00" x2="462.30" y2="53.00" stroke="#3eec1c" stroke-width="1.5" />
<rect x="456.9" y="51.7" width="2.6" height="2.6" fill="#3eec1c"/>
<text x="464.40" y="55.50" font-size="7.2" text-anchor="start" font-weight="normal" fill="#1a1a1a"  style="stroke-width:0.12px">sg<tspan font-style="italic">MEF2D</tspan> e5.1</text>
<line x1="224.60" y1="161.40" x2="224.60" y2="241.90" stroke="#1a1a1a" stroke-width="1.3" />
<line x1="224.00" y1="241.30" x2="304.00" y2="241.30" stroke="#1a1a1a" stroke-width="1.3" />
<line x1="221.60" y1="241.30" x2="224.60" y2="241.30" stroke="#1a1a1a" stroke-width="1.1" />
<text x="218.70" y="243.40" font-size="7.6" text-anchor="end" font-weight="normal" fill="#1a1a1a"  >0</text>
<line x1="221.60" y1="225.40" x2="224.60" y2="225.40" stroke="#1a1a1a" stroke-width="1.1" />
<text x="218.70" y="227.50" font-size="7.6" text-anchor="end" font-weight="normal" fill="#1a1a1a"  >10</text>
<line x1="221.60" y1="209.50" x2="224.60" y2="209.50" stroke="#1a1a1a" stroke-width="1.1" />
<text x="218.70" y="211.60" font-size="7.6" text-anchor="end" font-weight="normal" fill="#1a1a1a"  >20</text>
<line x1="221.60" y1="193.60" x2="224.60" y2="193.60" stroke="#1a1a1a" stroke-width="1.1" />
<text x="218.70" y="195.70" font-size="7.6" text-anchor="end" font-weight="normal" fill="#1a1a1a"  >30</text>
<line x1="221.60" y1="177.70" x2="224.60" y2="177.70" stroke="#1a1a1a" stroke-width="1.1" />
<text x="218.70" y="179.80" font-size="7.6" text-anchor="end" font-weight="normal" fill="#1a1a1a"  >40</text>
<line x1="221.60" y1="161.80" x2="224.60" y2="161.80" stroke="#1a1a1a" stroke-width="1.1" />
<text x="218.70" y="163.90" font-size="7.6" text-anchor="end" font-weight="normal" fill="#1a1a1a"  >50</text>
<line x1="233.30" y1="241.30" x2="233.30" y2="244.10" stroke="#1a1a1a" stroke-width="1.1" />
<line x1="264.60" y1="241.30" x2="264.60" y2="244.10" stroke="#1a1a1a" stroke-width="1.1" />
<line x1="295.40" y1="241.30" x2="295.40" y2="244.10" stroke="#1a1a1a" stroke-width="1.1" />
<text x="233.30" y="253.50" font-size="7.6" text-anchor="middle" font-weight="normal" fill="#1a1a1a"  >sg<tspan font-style="italic">Luc</tspan></text>
<text x="264.40" y="253.50" font-size="7.6" text-anchor="middle" font-weight="normal" fill="#1a1a1a"  >e2.1</text>
<text x="295.40" y="253.50" font-size="7.6" text-anchor="middle" font-weight="normal" fill="#1a1a1a"  >e5.1</text>
<line x1="259.00" y1="257.60" x2="298.60" y2="257.60" stroke="#222" stroke-width="1.5" />
<text x="278.70" y="268.40" font-size="9.2" text-anchor="middle" font-weight="normal" fill="#1a1a1a"  >sg<tspan font-style="italic">MEF2D</tspan></text>
<text transform="translate(204.50,201.90) rotate(-90) scale(0.68,1)" font-size="9.8" text-anchor="middle" fill="#1a1a1a" style="stroke-width:0.4px">Percentage (%)</text>
<text x="250.0" y="146.7" font-size="9.6" fill="#111">CD14<tspan font-size="5.2" dy="-4">+</tspan></text>
<line x1="235.30" y1="165.80" x2="295.50" y2="165.80" stroke="#111" stroke-width="1.1" />
<line x1="235.30" y1="175.60" x2="264.80" y2="175.60" stroke="#555" stroke-width="1.5" />
<text x="265.40" y="165.00" font-size="6.8" text-anchor="middle" font-weight="normal" fill="#222"  letter-spacing="0.3" style="stroke-width:0.1px">***</text>
<text x="250.05" y="175.00" font-size="6.8" text-anchor="middle" font-weight="normal" fill="#222"  letter-spacing="0.3" style="stroke-width:0.1px">***</text>
<circle cx="229.70" cy="229.30" r="2.3" stroke="#d41a24" stroke-width="1.15" fill="none"/>
<circle cx="233.70" cy="226.60" r="2.3" stroke="#d41a24" stroke-width="1.15" fill="none"/>
<circle cx="238.20" cy="229.10" r="2.3" stroke="#d41a24" stroke-width="1.15" fill="none"/>
<line x1="226.70" y1="228.20" x2="240.70" y2="228.20" stroke="#d41a24" stroke-width="1.0" />
<line x1="233.70" y1="226.20" x2="233.70" y2="230.20" stroke="#d41a24" stroke-width="1.0" />
<line x1="230.70" y1="226.20" x2="236.70" y2="226.20" stroke="#d41a24" stroke-width="1.0" />
<line x1="230.70" y1="230.20" x2="236.70" y2="230.20" stroke="#d41a24" stroke-width="1.0" />
<circle cx="260.40" cy="181.30" r="2.3" stroke="#1d3fbf" stroke-width="1.15" fill="none"/>
<circle cx="260.40" cy="188.30" r="2.3" stroke="#1d3fbf" stroke-width="1.15" fill="none"/>
<circle cx="268.50" cy="184.50" r="2.3" stroke="#1d3fbf" stroke-width="1.15" fill="none"/>
<line x1="257.30" y1="184.70" x2="271.30" y2="184.70" stroke="#1d3fbf" stroke-width="1.0" />
<line x1="264.30" y1="182.70" x2="264.30" y2="186.70" stroke="#1d3fbf" stroke-width="1.0" />
<line x1="261.30" y1="182.70" x2="267.30" y2="182.70" stroke="#1d3fbf" stroke-width="1.0" />
<line x1="261.30" y1="186.70" x2="267.30" y2="186.70" stroke="#1d3fbf" stroke-width="1.0" />
<circle cx="295.00" cy="195.20" r="2.3" stroke="#3eec1c" stroke-width="1.15" fill="none"/>
<circle cx="291.00" cy="199.60" r="2.3" stroke="#3eec1c" stroke-width="1.15" fill="none"/>
<circle cx="299.00" cy="199.60" r="2.3" stroke="#3eec1c" stroke-width="1.15" fill="none"/>
<line x1="288.30" y1="198.90" x2="302.30" y2="198.90" stroke="#3eec1c" stroke-width="1.0" />
<line x1="295.30" y1="196.90" x2="295.30" y2="200.90" stroke="#3eec1c" stroke-width="1.0" />
<line x1="292.30" y1="196.90" x2="298.30" y2="196.90" stroke="#3eec1c" stroke-width="1.0" />
<line x1="292.30" y1="200.90" x2="298.30" y2="200.90" stroke="#3eec1c" stroke-width="1.0" />
<line x1="366.50" y1="160.60" x2="366.50" y2="240.60" stroke="#1a1a1a" stroke-width="1.3" />
<line x1="365.90" y1="240.00" x2="445.60" y2="240.00" stroke="#1a1a1a" stroke-width="1.3" />
<line x1="363.50" y1="240.00" x2="366.50" y2="240.00" stroke="#1a1a1a" stroke-width="1.1" />
<text x="360.60" y="242.10" font-size="7.6" text-anchor="end" font-weight="normal" fill="#1a1a1a"  >0</text>
<line x1="363.50" y1="220.25" x2="366.50" y2="220.25" stroke="#1a1a1a" stroke-width="1.1" />
<text x="360.60" y="222.35" font-size="7.6" text-anchor="end" font-weight="normal" fill="#1a1a1a"  >10</text>
<line x1="363.50" y1="200.50" x2="366.50" y2="200.50" stroke="#1a1a1a" stroke-width="1.1" />
<text x="360.60" y="202.60" font-size="7.6" text-anchor="end" font-weight="normal" fill="#1a1a1a"  >20</text>
<line x1="363.50" y1="180.75" x2="366.50" y2="180.75" stroke="#1a1a1a" stroke-width="1.1" />
<text x="360.60" y="182.85" font-size="7.6" text-anchor="end" font-weight="normal" fill="#1a1a1a"  >30</text>
<line x1="363.50" y1="161.00" x2="366.50" y2="161.00" stroke="#1a1a1a" stroke-width="1.1" />
<text x="360.60" y="163.10" font-size="7.6" text-anchor="end" font-weight="normal" fill="#1a1a1a"  >40</text>
<line x1="375.90" y1="240.00" x2="375.90" y2="242.80" stroke="#1a1a1a" stroke-width="1.1" />
<line x1="406.40" y1="240.00" x2="406.40" y2="242.80" stroke="#1a1a1a" stroke-width="1.1" />
<line x1="437.20" y1="240.00" x2="437.20" y2="242.80" stroke="#1a1a1a" stroke-width="1.1" />
<text x="375.90" y="252.20" font-size="7.6" text-anchor="middle" font-weight="normal" fill="#1a1a1a"  >sg<tspan font-style="italic">Luc</tspan></text>
<text x="406.20" y="252.20" font-size="7.6" text-anchor="middle" font-weight="normal" fill="#1a1a1a"  >e2.1</text>
<text x="437.20" y="252.20" font-size="7.6" text-anchor="middle" font-weight="normal" fill="#1a1a1a"  >e5.1</text>
<line x1="399.40" y1="256.80" x2="440.00" y2="256.80" stroke="#222" stroke-width="1.5" />
<text x="420.30" y="267.60" font-size="9.2" text-anchor="middle" font-weight="normal" fill="#1a1a1a"  >sg<tspan font-style="italic">MEF2D</tspan></text>
<text transform="translate(346.30,199.40) rotate(-90) scale(0.68,1)" font-size="9.8" text-anchor="middle" fill="#1a1a1a" style="stroke-width:0.4px">Percentage (%)</text>
<text x="389.0" y="146.8" font-size="9.6" fill="#111">CD33<tspan font-size="5.2" dy="-4">High</tspan></text>
<line x1="376.20" y1="161.70" x2="437.20" y2="161.70" stroke="#111" stroke-width="1.1" />
<line x1="376.20" y1="171.50" x2="406.50" y2="171.50" stroke="#555" stroke-width="1.5" />
<text x="406.70" y="160.90" font-size="6.8" text-anchor="middle" font-weight="normal" fill="#222"  letter-spacing="0.3" style="stroke-width:0.1px">***</text>
<text x="391.35" y="170.90" font-size="6.8" text-anchor="middle" font-weight="normal" fill="#222"  letter-spacing="0.3" style="stroke-width:0.1px">***</text>
<circle cx="371.80" cy="228.60" r="2.3" stroke="#d41a24" stroke-width="1.15" fill="none"/>
<circle cx="376.00" cy="226.90" r="2.3" stroke="#d41a24" stroke-width="1.15" fill="none"/>
<circle cx="380.20" cy="228.40" r="2.3" stroke="#d41a24" stroke-width="1.15" fill="none"/>
<line x1="369.00" y1="228.20" x2="383.00" y2="228.20" stroke="#d41a24" stroke-width="1.0" />
<line x1="376.00" y1="226.20" x2="376.00" y2="230.20" stroke="#d41a24" stroke-width="1.0" />
<line x1="373.00" y1="226.20" x2="379.00" y2="226.20" stroke="#d41a24" stroke-width="1.0" />
<line x1="373.00" y1="230.20" x2="379.00" y2="230.20" stroke="#d41a24" stroke-width="1.0" />
<circle cx="406.10" cy="176.30" r="2.3" stroke="#1d3fbf" stroke-width="1.15" fill="none"/>
<circle cx="402.40" cy="183.50" r="2.3" stroke="#1d3fbf" stroke-width="1.15" fill="none"/>
<circle cx="410.30" cy="182.20" r="2.3" stroke="#1d3fbf" stroke-width="1.15" fill="none"/>
<line x1="399.20" y1="181.10" x2="413.20" y2="181.10" stroke="#1d3fbf" stroke-width="1.0" />
<line x1="406.20" y1="179.10" x2="406.20" y2="183.10" stroke="#1d3fbf" stroke-width="1.0" />
<line x1="403.20" y1="179.10" x2="409.20" y2="179.10" stroke="#1d3fbf" stroke-width="1.0" />
<line x1="403.20" y1="183.10" x2="409.20" y2="183.10" stroke="#1d3fbf" stroke-width="1.0" />
<circle cx="436.80" cy="182.90" r="2.3" stroke="#3eec1c" stroke-width="1.15" fill="none"/>
<circle cx="433.10" cy="190.10" r="2.3" stroke="#3eec1c" stroke-width="1.15" fill="none"/>
<circle cx="441.00" cy="189.00" r="2.3" stroke="#3eec1c" stroke-width="1.15" fill="none"/>
<line x1="430.00" y1="187.50" x2="444.00" y2="187.50" stroke="#3eec1c" stroke-width="1.0" />
<line x1="437.00" y1="185.50" x2="437.00" y2="189.50" stroke="#3eec1c" stroke-width="1.0" />
<line x1="434.00" y1="185.50" x2="440.00" y2="185.50" stroke="#3eec1c" stroke-width="1.0" />
<line x1="434.00" y1="189.50" x2="440.00" y2="189.50" stroke="#3eec1c" stroke-width="1.0" />
<line x1="225.20" y1="302.91" x2="225.20" y2="381.20" stroke="#1a1a1a" stroke-width="1.3" />
<line x1="224.60" y1="380.60" x2="306.80" y2="380.60" stroke="#1a1a1a" stroke-width="1.3" />
<line x1="222.20" y1="380.60" x2="225.20" y2="380.60" stroke="#1a1a1a" stroke-width="1.1" />
<text x="219.30" y="382.70" font-size="7.6" text-anchor="end" font-weight="normal" fill="#1a1a1a"  >0</text>
<line x1="222.20" y1="354.87" x2="225.20" y2="354.87" stroke="#1a1a1a" stroke-width="1.1" />
<text x="219.30" y="356.97" font-size="7.6" text-anchor="end" font-weight="normal" fill="#1a1a1a"  >10</text>
<line x1="222.20" y1="329.14" x2="225.20" y2="329.14" stroke="#1a1a1a" stroke-width="1.1" />
<text x="219.30" y="331.24" font-size="7.6" text-anchor="end" font-weight="normal" fill="#1a1a1a"  >20</text>
<line x1="222.20" y1="303.41" x2="225.20" y2="303.41" stroke="#1a1a1a" stroke-width="1.1" />
<text x="219.30" y="305.51" font-size="7.6" text-anchor="end" font-weight="normal" fill="#1a1a1a"  >30</text>
<line x1="224.70" y1="380.60" x2="224.70" y2="383.40" stroke="#1a1a1a" stroke-width="1.1" />
<text x="224.70" y="393.00" font-size="7.6" text-anchor="middle" font-weight="normal" fill="#1a1a1a"  >0</text>
<line x1="245.15" y1="380.60" x2="245.15" y2="383.40" stroke="#1a1a1a" stroke-width="1.1" />
<text x="245.15" y="393.00" font-size="7.6" text-anchor="middle" font-weight="normal" fill="#1a1a1a"  >10</text>
<line x1="265.60" y1="380.60" x2="265.60" y2="383.40" stroke="#1a1a1a" stroke-width="1.1" />
<text x="265.60" y="393.00" font-size="7.6" text-anchor="middle" font-weight="normal" fill="#1a1a1a"  >20</text>
<line x1="286.05" y1="380.60" x2="286.05" y2="383.40" stroke="#1a1a1a" stroke-width="1.1" />
<text x="286.05" y="393.00" font-size="7.6" text-anchor="middle" font-weight="normal" fill="#1a1a1a"  >30</text>
<line x1="306.50" y1="380.60" x2="306.50" y2="383.40" stroke="#1a1a1a" stroke-width="1.1" />
<text x="306.50" y="393.00" font-size="7.6" text-anchor="middle" font-weight="normal" fill="#1a1a1a"  >40</text>
<text transform="translate(266.00,403.70) scale(0.68,1)" font-size="9.8" text-anchor="middle" fill="#1a1a1a" style="stroke-width:0.4px">Days</text>
<text transform="translate(203.5,341.8) rotate(-90) scale(0.68,1)" font-size="9.8" text-anchor="middle" fill="#1a1a1a" style="stroke-width:0.4px">Human CD45<tspan font-size="5" dy="-3">+</tspan><tspan dy="3"> cells (%)</tspan></text>
<path d="M245.15,380.60 L255.38,317.82" stroke="#d41a24" stroke-width="1.9" fill="none" stroke-linejoin="round" stroke-linecap="round" />
<line x1="255.38" y1="304.44" x2="255.38" y2="330.43" stroke="#d41a24" stroke-width="1.3" />
<line x1="253.57" y1="304.44" x2="257.18" y2="304.44" stroke="#d41a24" stroke-width="1.3" />
<line x1="253.57" y1="330.43" x2="257.18" y2="330.43" stroke="#d41a24" stroke-width="1.3" />
<circle cx="255.38" cy="317.82" r="1.3" stroke="#d41a24" stroke-width="0.5" fill="#d41a24"/>
<path d="M245.15,380.60 L255.38,377.90 L277.87,375.97 L290.14,364.65" stroke="#1d3fbf" stroke-width="1.9" fill="none" stroke-linejoin="round" stroke-linecap="round" />
<line x1="290.14" y1="360.02" x2="290.14" y2="369.79" stroke="#1d3fbf" stroke-width="1.3" />
<line x1="288.34" y1="360.02" x2="291.94" y2="360.02" stroke="#1d3fbf" stroke-width="1.3" />
<line x1="288.34" y1="369.79" x2="291.94" y2="369.79" stroke="#1d3fbf" stroke-width="1.3" />
<circle cx="255.38" cy="377.90" r="1.3" stroke="#1d3fbf" stroke-width="0.5" fill="#1d3fbf"/>
<circle cx="277.87" cy="375.97" r="1.3" stroke="#1d3fbf" stroke-width="0.5" fill="#1d3fbf"/>
<circle cx="290.14" cy="364.65" r="1.3" stroke="#1d3fbf" stroke-width="0.5" fill="#1d3fbf"/>
<circle cx="245.15" cy="380.60" r="1.4" stroke="#d41a24" stroke-width="0.5" fill="#d41a24"/>
<text x="254.40" y="372.00" font-size="6.8" text-anchor="middle" font-weight="normal" fill="#222"  letter-spacing="0.3" style="stroke-width:0.1px">***</text>
<text x="275.60" y="369.30" font-size="7.4" text-anchor="middle" font-weight="normal" fill="#444"  style="stroke:none">na</text>
<text x="289.70" y="354.70" font-size="7.4" text-anchor="middle" font-weight="normal" fill="#444"  style="stroke:none">na</text>
<line x1="265.80" y1="302.60" x2="274.60" y2="302.60" stroke="#d41a24" stroke-width="1.5" />
<circle cx="270.20" cy="302.60" r="1.2" stroke="#d41a24" stroke-width="0.4" fill="#d41a24"/>
<text x="277.00" y="305.10" font-size="7.2" text-anchor="start" font-weight="normal" fill="#1a1a1a"  style="stroke-width:0.12px">sg<tspan font-style="italic">ROSA26</tspan>*</text>
<line x1="265.80" y1="314.20" x2="274.60" y2="314.20" stroke="#1d3fbf" stroke-width="1.5" />
<circle cx="270.20" cy="314.20" r="1.2" stroke="#1d3fbf" stroke-width="0.4" fill="#1d3fbf"/>
<text x="277.00" y="316.70" font-size="7.2" text-anchor="start" font-weight="normal" fill="#1a1a1a"  style="stroke-width:0.12px">sg<tspan font-style="italic">MEF2D</tspan> e2.1</text>
<line x1="366.70" y1="308.40" x2="366.70" y2="383.00" stroke="#1a1a1a" stroke-width="1.3" />
<line x1="366.10" y1="382.40" x2="463.00" y2="382.40" stroke="#1a1a1a" stroke-width="1.3" />
<line x1="363.70" y1="382.40" x2="366.70" y2="382.40" stroke="#1a1a1a" stroke-width="1.1" />
<text x="360.80" y="384.50" font-size="7.6" text-anchor="end" font-weight="normal" fill="#1a1a1a"  >0</text>
<line x1="363.70" y1="348.70" x2="366.70" y2="348.70" stroke="#1a1a1a" stroke-width="1.1" />
<text x="360.80" y="350.80" font-size="7.6" text-anchor="end" font-weight="normal" fill="#1a1a1a"  >50</text>
<line x1="363.70" y1="315.00" x2="366.70" y2="315.00" stroke="#1a1a1a" stroke-width="1.1" />
<text x="360.80" y="317.10" font-size="7.6" text-anchor="end" font-weight="normal" fill="#1a1a1a"  >100</text>
<line x1="366.70" y1="382.40" x2="366.70" y2="385.20" stroke="#1a1a1a" stroke-width="1.1" />
<text x="366.70" y="394.60" font-size="7.6" text-anchor="middle" font-weight="normal" fill="#1a1a1a"  >0</text>
<line x1="385.90" y1="382.40" x2="385.90" y2="385.20" stroke="#1a1a1a" stroke-width="1.1" />
<text x="385.90" y="394.60" font-size="7.6" text-anchor="middle" font-weight="normal" fill="#1a1a1a"  >10</text>
<line x1="405.10" y1="382.40" x2="405.10" y2="385.20" stroke="#1a1a1a" stroke-width="1.1" />
<text x="405.10" y="394.60" font-size="7.6" text-anchor="middle" font-weight="normal" fill="#1a1a1a"  >20</text>
<line x1="424.30" y1="382.40" x2="424.30" y2="385.20" stroke="#1a1a1a" stroke-width="1.1" />
<text x="424.30" y="394.60" font-size="7.6" text-anchor="middle" font-weight="normal" fill="#1a1a1a"  >30</text>
<line x1="443.50" y1="382.40" x2="443.50" y2="385.20" stroke="#1a1a1a" stroke-width="1.1" />
<text x="443.50" y="394.60" font-size="7.6" text-anchor="middle" font-weight="normal" fill="#1a1a1a"  >40</text>
<line x1="462.70" y1="382.40" x2="462.70" y2="385.20" stroke="#1a1a1a" stroke-width="1.1" />
<text x="462.70" y="394.60" font-size="7.6" text-anchor="middle" font-weight="normal" fill="#1a1a1a"  >50</text>
<text transform="translate(414.70,407.20) scale(0.68,1)" font-size="9.8" text-anchor="middle" fill="#1a1a1a" style="stroke-width:0.4px">Days</text>
<text transform="translate(345.40,345.00) rotate(-90) scale(0.68,1)" font-size="9.8" text-anchor="middle" fill="#1a1a1a" style="stroke-width:0.4px">% survival</text>
<path d="M366.70,315.00 L410.86,315.00 L410.86,326.26 L431.98,326.26 L431.98,337.44 L433.90,337.44 L433.90,348.70 L435.82,348.70 L435.82,359.96 L443.50,359.96 L443.50,371.14 L447.34,371.14 L447.34,382.40" stroke="#1d3fbf" stroke-width="1.9" fill="none" stroke-linejoin="round" stroke-linecap="round" stroke-linecap="butt" stroke-linejoin="miter"/>
<path d="M366.70,315.00 L397.42,315.00 L397.42,328.48 L401.26,328.48 L401.26,355.44 L403.18,355.44 L403.18,368.92 L405.10,368.92 L405.10,382.40" stroke="#d41a24" stroke-width="1.9" fill="none" stroke-linejoin="round" stroke-linecap="round" stroke-linecap="butt" stroke-linejoin="miter"/>
<text x="461.30" y="343.40" font-size="6.8" text-anchor="middle" font-weight="normal" fill="#222"  letter-spacing="0.3" style="stroke-width:0.1px">***</text>
<text x="448.50" y="353.20" font-size="7.6" text-anchor="start" font-weight="normal" fill="#1a1a1a"  >Log rank</text>
<text x="448.30" y="361.80" font-size="7.6" text-anchor="start" font-weight="normal" fill="#1a1a1a"  textLength="38.8" lengthAdjust="spacing"><tspan font-style="italic">p</tspan> = 0.0007</text>
<line x1="419.50" y1="301.90" x2="427.70" y2="301.90" stroke="#d41a24" stroke-width="1.5" />
<path d="M422.30,302.20 L423.60,300.30 L424.90,302.20Z" fill="#111"/>
<text x="429.70" y="304.40" font-size="7.2" text-anchor="start" font-weight="normal" fill="#1a1a1a"  style="stroke-width:0.12px">sg<tspan font-style="italic">ROSA26</tspan></text>
<line x1="419.50" y1="312.70" x2="427.70" y2="312.70" stroke="#1d3fbf" stroke-width="1.5" />
<path d="M422.30,313.00 L423.60,311.10 L424.90,313.00Z" fill="#111"/>
<text x="429.70" y="315.20" font-size="7.2" text-anchor="start" font-weight="normal" fill="#1a1a1a"  style="stroke-width:0.12px">sg<tspan font-style="italic">MEF2D</tspan> e2.1</text>
<text x="50.00" y="159.60" font-size="9.2" text-anchor="middle" font-weight="normal" fill="#1a1a1a"  >sg<tspan font-style="italic">Luc</tspan></text>
<text x="131.60" y="159.60" font-size="9.2" text-anchor="middle" font-weight="normal" fill="#1a1a1a"  >sg<tspan font-style="italic">MEF2D</tspan> e2.1</text>
<defs>
<radialGradient id="nuc" cx="50%" cy="50%" r="55%"><stop offset="0" stop-color="#4c2ccc"/><stop offset="0.7" stop-color="#5432ca"/><stop offset="1" stop-color="#7244c8"/></radialGradient>
<radialGradient id="cyt" cx="50%" cy="50%" r="55%"><stop offset="0.5" stop-color="#4680e4"/><stop offset="0.85" stop-color="#649ce8"/><stop offset="1" stop-color="#90bcf0"/></radialGradient>
<filter id="tex" x="0" y="0" width="1" height="1"><feTurbulence type="fractalNoise" baseFrequency="0.32" numOctaves="2" seed="5"/><feColorMatrix values="0 0 0 0 0.70  0 0 0 0 0.36  0 0 0 0 0.82  0 0 0 2.2 -0.95"/><feComposite in2="SourceGraphic" operator="in"/></filter>
<clipPath id="cb1"><rect x="14.8" y="164.8" width="73.4" height="74"/></clipPath>
<clipPath id="cb2"><rect x="94.8" y="165.3" width="74.2" height="73.5"/></clipPath>
<clipPath id="ce1"><rect x="11" y="312.2" width="79.3" height="83.8"/></clipPath>
<clipPath id="ce2"><rect x="93" y="312.2" width="79" height="83.8"/></clipPath>
<filter id="soft" x="-5%" y="-5%" width="110%" height="110%"><feGaussianBlur stdDeviation="0.45"/></filter>
<linearGradient id="mw" x1="0" y1="0" x2="1" y2="0"><stop offset="0" stop-color="#8a8a8a"/><stop offset="0.2" stop-color="#cfcfcf"/><stop offset="0.55" stop-color="#e0e0e0"/><stop offset="0.85" stop-color="#c4c4c4"/><stop offset="1" stop-color="#8a8a8a"/></linearGradient>
</defs>
<rect x="14.7" y="164.7" width="73.6" height="74.1" fill="#e9f8df"/>
<g clip-path="url(#cb1)">
<path d="M42.00,162.00 C39.50,163.08 43.67,164.17 45.00,165.50 C46.33,166.83 48.17,168.75 50.00,170.00 C51.83,171.25 54.00,172.33 56.00,173.00 C58.00,173.67 60.33,173.70 62.00,174.00 C63.67,174.30 63.83,174.33 66.00,174.80 C68.17,175.27 72.00,176.68 75.00,176.80 C78.00,176.92 81.50,175.88 84.00,175.50 C86.50,175.12 88.83,177.08 90.00,174.50 C91.17,171.92 96.00,162.58 91.00,160.00 C86.00,157.42 68.17,158.67 60.00,159.00 C51.83,159.33 44.50,160.92 42.00,162.00Z" fill="url(#cyt)" stroke="#f6fbf2" stroke-width="1.0" />
<line x1="65.80" y1="163.00" x2="65.80" y2="174.50" stroke="#f6fbf2" stroke-width="1.0" />
<path d="M47.00,162.00 C44.67,162.67 47.67,165.08 49.00,166.00 C50.33,166.92 53.00,167.42 55.00,167.50 C57.00,167.58 59.67,167.42 61.00,166.50 C62.33,165.58 65.33,162.75 63.00,162.00 C60.67,161.25 49.33,161.33 47.00,162.00Z" fill="url(#nuc)"/>
<path d="M47.00,162.00 C44.67,162.67 47.67,165.08 49.00,166.00 C50.33,166.92 53.00,167.42 55.00,167.50 C57.00,167.58 59.67,167.42 61.00,166.50 C62.33,165.58 65.33,162.75 63.00,162.00 C60.67,161.25 49.33,161.33 47.00,162.00Z" fill="#fff" filter="url(#tex)" opacity="0.55"/>
<path d="M67.50,162.00 C64.00,163.17 67.25,166.42 68.00,168.00 C68.75,169.58 70.00,170.83 72.00,171.50 C74.00,172.17 77.67,172.25 80.00,172.00 C82.33,171.75 84.50,171.17 86.00,170.00 C87.50,168.83 88.50,166.50 89.00,165.00 C89.50,163.50 92.58,161.50 89.00,161.00 C85.42,160.50 71.00,160.83 67.50,162.00Z" fill="url(#nuc)"/>
<path d="M67.50,162.00 C64.00,163.17 67.25,166.42 68.00,168.00 C68.75,169.58 70.00,170.83 72.00,171.50 C74.00,172.17 77.67,172.25 80.00,172.00 C82.33,171.75 84.50,171.17 86.00,170.00 C87.50,168.83 88.50,166.50 89.00,165.00 C89.50,163.50 92.58,161.50 89.00,161.00 C85.42,160.50 71.00,160.83 67.50,162.00Z" fill="#fff" filter="url(#tex)" opacity="0.55"/>
<path d="M52.00,200.00 C51.33,197.00 52.67,191.17 54.00,188.00 C55.33,184.83 57.67,182.75 60.00,181.00 C62.33,179.25 65.33,178.33 68.00,177.50 C70.67,176.67 73.33,176.58 76.00,176.00 C78.67,175.42 81.67,174.67 84.00,174.00 C86.33,173.33 89.00,166.67 90.00,172.00 C91.00,177.33 91.00,199.50 90.00,206.00 C89.00,212.50 86.33,210.50 84.00,211.00 C81.67,211.50 79.00,209.50 76.00,209.00 C73.00,208.50 69.00,208.50 66.00,208.00 C63.00,207.50 60.33,207.33 58.00,206.00 C55.67,204.67 52.67,203.00 52.00,200.00Z" fill="url(#cyt)" stroke="#f6fbf2" stroke-width="1.0" />
<path d="M82.60,194.50 C82.65,196.63 82.32,199.21 81.27,200.99 C80.23,202.77 78.16,204.13 76.33,205.19 C74.50,206.25 72.30,207.37 70.30,207.35 C68.30,207.33 66.11,206.18 64.33,205.08 C62.56,203.99 60.77,202.56 59.65,200.80 C58.53,199.04 57.61,196.59 57.63,194.50 C57.65,192.41 58.67,190.08 59.75,188.26 C60.84,186.44 62.39,184.69 64.15,183.59 C65.91,182.49 68.27,181.61 70.30,181.65 C72.33,181.68 74.55,182.71 76.33,183.81 C78.10,184.90 79.91,186.42 80.95,188.20 C82.00,189.98 82.55,192.37 82.60,194.50Z" fill="url(#nuc)"/>
<path d="M82.60,194.50 C82.65,196.63 82.32,199.21 81.27,200.99 C80.23,202.77 78.16,204.13 76.33,205.19 C74.50,206.25 72.30,207.37 70.30,207.35 C68.30,207.33 66.11,206.18 64.33,205.08 C62.56,203.99 60.77,202.56 59.65,200.80 C58.53,199.04 57.61,196.59 57.63,194.50 C57.65,192.41 58.67,190.08 59.75,188.26 C60.84,186.44 62.39,184.69 64.15,183.59 C65.91,182.49 68.27,181.61 70.30,181.65 C72.33,181.68 74.55,182.71 76.33,183.81 C78.10,184.90 79.91,186.42 80.95,188.20 C82.00,189.98 82.55,192.37 82.60,194.50Z" fill="#fff" filter="url(#tex)" opacity="0.55"/>
<path d="M49.00,221.00 C49.17,218.17 50.17,214.83 52.00,213.00 C53.83,211.17 57.00,210.58 60.00,210.00 C63.00,209.42 66.67,209.33 70.00,209.50 C73.33,209.67 78.00,209.25 80.00,211.00 C82.00,212.75 82.00,216.83 82.00,220.00 C82.00,223.17 81.33,227.50 80.00,230.00 C78.67,232.50 76.67,233.92 74.00,235.00 C71.33,236.08 67.17,236.33 64.00,236.50 C60.83,236.67 57.17,237.08 55.00,236.00 C52.83,234.92 52.00,232.50 51.00,230.00 C50.00,227.50 48.83,223.83 49.00,221.00Z" fill="url(#cyt)" stroke="#f6fbf2" stroke-width="1.0" />
<path d="M77.80,220.80 C77.80,222.52 77.16,224.46 76.10,225.95 C75.04,227.44 73.28,228.86 71.45,229.72 C69.62,230.58 67.22,231.10 65.10,231.10 C62.98,231.10 60.58,230.58 58.75,229.72 C56.92,228.86 55.16,227.44 54.10,225.95 C53.04,224.46 52.40,222.52 52.40,220.80 C52.40,219.08 53.04,217.14 54.10,215.65 C55.16,214.16 56.92,212.74 58.75,211.88 C60.58,211.02 62.98,210.50 65.10,210.50 C67.22,210.50 69.62,211.02 71.45,211.88 C73.28,212.74 75.04,214.16 76.10,215.65 C77.16,217.14 77.80,219.08 77.80,220.80Z" fill="url(#nuc)"/>
<path d="M77.80,220.80 C77.80,222.52 77.16,224.46 76.10,225.95 C75.04,227.44 73.28,228.86 71.45,229.72 C69.62,230.58 67.22,231.10 65.10,231.10 C62.98,231.10 60.58,230.58 58.75,229.72 C56.92,228.86 55.16,227.44 54.10,225.95 C53.04,224.46 52.40,222.52 52.40,220.80 C52.40,219.08 53.04,217.14 54.10,215.65 C55.16,214.16 56.92,212.74 58.75,211.88 C60.58,211.02 62.98,210.50 65.10,210.50 C67.22,210.50 69.62,211.02 71.45,211.88 C73.28,212.74 75.04,214.16 76.10,215.65 C77.16,217.14 77.80,219.08 77.80,220.80Z" fill="#fff" filter="url(#tex)" opacity="0.55"/>
<path d="M17.50,207.00 C17.75,204.33 18.25,200.17 20.00,198.00 C21.75,195.83 25.00,194.70 28.00,194.00 C31.00,193.30 34.83,193.30 38.00,193.80 C41.17,194.30 44.58,195.13 47.00,197.00 C49.42,198.87 51.83,202.17 52.50,205.00 C53.17,207.83 52.42,211.42 51.00,214.00 C49.58,216.58 46.83,219.20 44.00,220.50 C41.17,221.80 37.33,221.88 34.00,221.80 C30.67,221.72 26.58,221.30 24.00,220.00 C21.42,218.70 19.58,216.17 18.50,214.00 C17.42,211.83 17.25,209.67 17.50,207.00Z" fill="url(#cyt)" stroke="#f6fbf2" stroke-width="1.0" />
<path d="M19.00,208.00 C19.17,206.00 19.83,203.37 21.00,202.00 C22.17,200.63 24.33,199.88 26.00,199.80 C27.67,199.72 29.50,201.53 31.00,201.50 C32.50,201.47 33.33,199.85 35.00,199.60 C36.67,199.35 39.25,199.10 41.00,200.00 C42.75,200.90 44.75,203.00 45.50,205.00 C46.25,207.00 46.25,209.92 45.50,212.00 C44.75,214.08 43.08,216.45 41.00,217.50 C38.92,218.55 35.67,218.25 33.00,218.30 C30.33,218.35 27.17,218.52 25.00,217.80 C22.83,217.08 21.00,215.63 20.00,214.00 C19.00,212.37 18.83,210.00 19.00,208.00Z" fill="url(#nuc)"/>
<path d="M19.00,208.00 C19.17,206.00 19.83,203.37 21.00,202.00 C22.17,200.63 24.33,199.88 26.00,199.80 C27.67,199.72 29.50,201.53 31.00,201.50 C32.50,201.47 33.33,199.85 35.00,199.60 C36.67,199.35 39.25,199.10 41.00,200.00 C42.75,200.90 44.75,203.00 45.50,205.00 C46.25,207.00 46.25,209.92 45.50,212.00 C44.75,214.08 43.08,216.45 41.00,217.50 C38.92,218.55 35.67,218.25 33.00,218.30 C30.33,218.35 27.17,218.52 25.00,217.80 C22.83,217.08 21.00,215.63 20.00,214.00 C19.00,212.37 18.83,210.00 19.00,208.00Z" fill="#fff" filter="url(#tex)" opacity="0.55"/>
</g>
<rect x="15.9" y="165.9" width="71.2" height="71.7" fill="none" stroke="#fbfff8" stroke-width="0.9"/>
<rect x="14.7" y="164.7" width="73.6" height="74.1" fill="none" stroke="#0a0a0a" stroke-width="1.5"/>
<text x="18.60" y="231.40" font-size="7.6" text-anchor="start" font-weight="normal" fill="#111"  >10 µm</text>
<line x1="23.40" y1="235.30" x2="35.60" y2="235.30" stroke="#111" stroke-width="1.3" />
<rect x="94.7" y="165.2" width="74.4" height="73.6" fill="#e9f8df"/>
<g clip-path="url(#cb2)">
<path d="M93.00,200.00 C94.00,194.90 97.17,201.40 99.00,202.40 C100.83,203.40 102.88,203.90 104.00,206.00 C105.12,208.10 105.70,211.67 105.70,215.00 C105.70,218.33 105.12,223.10 104.00,226.00 C102.88,228.90 100.83,231.23 99.00,232.40 C97.17,233.57 94.00,238.40 93.00,233.00 C92.00,227.60 92.00,205.10 93.00,200.00Z" fill="url(#cyt)" stroke="#f6fbf2" stroke-width="1.0" />
<path d="M93.00,203.00 C93.83,198.83 96.42,203.83 98.00,205.00 C99.58,206.17 101.67,207.83 102.50,210.00 C103.33,212.17 103.25,215.33 103.00,218.00 C102.75,220.67 102.00,224.00 101.00,226.00 C100.00,228.00 98.33,229.33 97.00,230.00 C95.67,230.67 93.67,234.50 93.00,230.00 C92.33,225.50 92.17,207.17 93.00,203.00Z" fill="url(#nuc)"/>
<path d="M93.00,203.00 C93.83,198.83 96.42,203.83 98.00,205.00 C99.58,206.17 101.67,207.83 102.50,210.00 C103.33,212.17 103.25,215.33 103.00,218.00 C102.75,220.67 102.00,224.00 101.00,226.00 C100.00,228.00 98.33,229.33 97.00,230.00 C95.67,230.67 93.67,234.50 93.00,230.00 C92.33,225.50 92.17,207.17 93.00,203.00Z" fill="#fff" filter="url(#tex)" opacity="0.55"/>
<path d="M125.40,228.00 C125.83,224.67 126.57,222.58 128.00,221.00 C129.43,219.42 131.67,218.90 134.00,218.50 C136.33,218.10 139.50,218.02 142.00,218.60 C144.50,219.18 147.38,220.27 149.00,222.00 C150.62,223.73 151.25,225.83 151.70,229.00 C152.15,232.17 156.08,239.00 151.70,241.00 C147.32,243.00 129.78,243.17 125.40,241.00 C121.02,238.83 124.97,231.33 125.40,228.00Z" fill="url(#cyt)" stroke="#f6fbf2" stroke-width="1.0" />
<path d="M127.00,231.00 C127.50,228.08 128.33,225.10 130.00,223.50 C131.67,221.90 134.50,221.57 137.00,221.40 C139.50,221.23 142.83,221.40 145.00,222.50 C147.17,223.60 149.12,224.92 150.00,228.00 C150.88,231.08 154.13,238.83 150.30,241.00 C146.47,243.17 130.88,242.67 127.00,241.00 C123.12,239.33 126.50,233.92 127.00,231.00Z" fill="url(#nuc)"/>
<path d="M127.00,231.00 C127.50,228.08 128.33,225.10 130.00,223.50 C131.67,221.90 134.50,221.57 137.00,221.40 C139.50,221.23 142.83,221.40 145.00,222.50 C147.17,223.60 149.12,224.92 150.00,228.00 C150.88,231.08 154.13,238.83 150.30,241.00 C146.47,243.17 130.88,242.67 127.00,241.00 C123.12,239.33 126.50,233.92 127.00,231.00Z" fill="#fff" filter="url(#tex)" opacity="0.55"/>
<path d="M127.60,200.00 C127.43,196.50 129.27,194.55 131.00,193.00 C132.73,191.45 135.33,191.03 138.00,190.70 C140.67,190.37 144.17,190.28 147.00,191.00 C149.83,191.72 153.12,193.00 155.00,195.00 C156.88,197.00 157.97,200.17 158.30,203.00 C158.63,205.83 158.38,209.53 157.00,212.00 C155.62,214.47 152.83,216.80 150.00,217.80 C147.17,218.80 143.00,218.63 140.00,218.00 C137.00,217.37 134.07,217.00 132.00,214.00 C129.93,211.00 127.77,203.50 127.60,200.00Z" fill="url(#cyt)" stroke="#f6fbf2" stroke-width="1.0" />
<path d="M130.50,201.00 C130.67,198.42 132.25,195.83 134.00,194.50 C135.75,193.17 138.50,193.00 141.00,193.00 C143.50,193.00 146.83,193.50 149.00,194.50 C151.17,195.50 153.33,197.08 154.00,199.00 C154.67,200.92 153.83,204.33 153.00,206.00 C152.17,207.67 150.17,207.83 149.00,209.00 C147.83,210.17 147.67,212.17 146.00,213.00 C144.33,213.83 141.17,214.50 139.00,214.00 C136.83,213.50 134.42,212.17 133.00,210.00 C131.58,207.83 130.33,203.58 130.50,201.00Z" fill="url(#nuc)"/>
<path d="M130.50,201.00 C130.67,198.42 132.25,195.83 134.00,194.50 C135.75,193.17 138.50,193.00 141.00,193.00 C143.50,193.00 146.83,193.50 149.00,194.50 C151.17,195.50 153.33,197.08 154.00,199.00 C154.67,200.92 153.83,204.33 153.00,206.00 C152.17,207.67 150.17,207.83 149.00,209.00 C147.83,210.17 147.67,212.17 146.00,213.00 C144.33,213.83 141.17,214.50 139.00,214.00 C136.83,213.50 134.42,212.17 133.00,210.00 C131.58,207.83 130.33,203.58 130.50,201.00Z" fill="#fff" filter="url(#tex)" opacity="0.55"/>
<path d="M108.60,205.00 C109.10,200.83 110.43,198.53 112.00,197.00 C113.57,195.47 115.83,195.47 118.00,195.80 C120.17,196.13 122.83,197.30 125.00,199.00 C127.17,200.70 128.85,203.17 131.00,206.00 C133.15,208.83 137.07,212.67 137.90,216.00 C138.73,219.33 137.32,223.33 136.00,226.00 C134.68,228.67 132.50,230.68 130.00,232.00 C127.50,233.32 123.83,234.07 121.00,233.90 C118.17,233.73 115.00,232.98 113.00,231.00 C111.00,229.02 109.73,226.33 109.00,222.00 C108.27,217.67 108.10,209.17 108.60,205.00Z" fill="url(#cyt)" stroke="#f6fbf2" stroke-width="1.0" />
<path d="M110.00,206.00 C110.58,202.58 112.17,200.50 114.00,199.50 C115.83,198.50 118.83,199.08 121.00,200.00 C123.17,200.92 125.05,202.67 127.00,205.00 C128.95,207.33 132.03,210.67 132.70,214.00 C133.37,217.33 132.12,222.17 131.00,225.00 C129.88,227.83 128.00,229.65 126.00,231.00 C124.00,232.35 121.17,233.27 119.00,233.10 C116.83,232.93 114.42,232.18 113.00,230.00 C111.58,227.82 111.00,224.00 110.50,220.00 C110.00,216.00 109.42,209.42 110.00,206.00Z" fill="url(#nuc)"/>
<path d="M110.00,206.00 C110.58,202.58 112.17,200.50 114.00,199.50 C115.83,198.50 118.83,199.08 121.00,200.00 C123.17,200.92 125.05,202.67 127.00,205.00 C128.95,207.33 132.03,210.67 132.70,214.00 C133.37,217.33 132.12,222.17 131.00,225.00 C129.88,227.83 128.00,229.65 126.00,231.00 C124.00,232.35 121.17,233.27 119.00,233.10 C116.83,232.93 114.42,232.18 113.00,230.00 C111.58,227.82 111.00,224.00 110.50,220.00 C110.00,216.00 109.42,209.42 110.00,206.00Z" fill="#fff" filter="url(#tex)" opacity="0.55"/>
<ellipse cx="120.3" cy="217" rx="3.6" ry="6.5" fill="#6f9fe4" transform="rotate(-20,120.3,217)"/>
<path d="M112.00,182.00 C111.67,178.50 112.50,175.42 114.00,173.00 C115.50,170.58 118.33,168.60 121.00,167.50 C123.67,166.40 127.00,166.23 130.00,166.40 C133.00,166.57 136.50,167.07 139.00,168.50 C141.50,169.93 143.83,172.58 145.00,175.00 C146.17,177.42 146.50,180.17 146.00,183.00 C145.50,185.83 144.00,189.42 142.00,192.00 C140.00,194.58 137.00,197.35 134.00,198.50 C131.00,199.65 127.00,199.65 124.00,198.90 C121.00,198.15 118.00,196.82 116.00,194.00 C114.00,191.18 112.33,185.50 112.00,182.00Z" fill="url(#cyt)" stroke="#f6fbf2" stroke-width="1.2" />
<path d="M112.60,183.00 C112.27,180.33 112.93,177.08 114.00,175.00 C115.07,172.92 117.00,171.43 119.00,170.50 C121.00,169.57 123.67,169.32 126.00,169.40 C128.33,169.48 131.08,169.73 133.00,171.00 C134.92,172.27 136.68,174.83 137.50,177.00 C138.32,179.17 138.48,182.17 137.90,184.00 C137.32,185.83 135.32,187.67 134.00,188.00 C132.68,188.33 131.17,185.33 130.00,186.00 C128.83,186.67 128.33,190.67 127.00,192.00 C125.67,193.33 123.83,194.17 122.00,194.00 C120.17,193.83 117.57,192.83 116.00,191.00 C114.43,189.17 112.93,185.67 112.60,183.00Z" fill="url(#nuc)"/>
<path d="M112.60,183.00 C112.27,180.33 112.93,177.08 114.00,175.00 C115.07,172.92 117.00,171.43 119.00,170.50 C121.00,169.57 123.67,169.32 126.00,169.40 C128.33,169.48 131.08,169.73 133.00,171.00 C134.92,172.27 136.68,174.83 137.50,177.00 C138.32,179.17 138.48,182.17 137.90,184.00 C137.32,185.83 135.32,187.67 134.00,188.00 C132.68,188.33 131.17,185.33 130.00,186.00 C128.83,186.67 128.33,190.67 127.00,192.00 C125.67,193.33 123.83,194.17 122.00,194.00 C120.17,193.83 117.57,192.83 116.00,191.00 C114.43,189.17 112.93,185.67 112.60,183.00Z" fill="#fff" filter="url(#tex)" opacity="0.55"/>
<ellipse cx="127" cy="188" rx="3.8" ry="3.6" fill="#78a4e6"/>
</g>
<rect x="95.9" y="166.4" width="72.0" height="71.2" fill="none" stroke="#fbfff8" stroke-width="0.9"/>
<rect x="94.7" y="165.2" width="74.4" height="73.6" fill="none" stroke="#0a0a0a" stroke-width="1.5"/>
<text x="50.30" y="306.90" font-size="9.4" text-anchor="middle" font-weight="normal" fill="#1a1a1a"  >sg<tspan font-style="italic">ROSA26</tspan></text>
<text x="132.10" y="306.90" font-size="9.4" text-anchor="middle" font-weight="normal" fill="#1a1a1a"  >sg<tspan font-style="italic">MEF2D</tspan> e2.1</text>
<rect x="11" y="312.2" width="79.3" height="83.8" fill="#050505"/>
<rect x="93" y="312.2" width="79" height="83.8" fill="#050505"/>
<defs><filter id="mtex" x="0" y="0" width="1" height="1"><feTurbulence type="fractalNoise" baseFrequency="0.25" numOctaves="2" seed="9"/><feColorMatrix values="0 0 0 0 0.45  0 0 0 0 0.45  0 0 0 0 0.45  0 0 0 2.0 -0.9"/><feComposite in2="SourceGraphic" operator="in"/></filter><filter id="hb" x="-30%" y="-30%" width="160%" height="160%"><feGaussianBlur stdDeviation="1.1"/></filter></defs>
<g opacity="0.55" stroke="#777" stroke-width="0.8" fill="none"><path d="M14,322 l3,-3 l2,2 l2,-3 M15,324 l5,0"/><path d="M69,324 l9,0 M72,322 l1,-2 l2,1"/><path d="M96,320 l3,-2 l2,1 l3,-2"/><path d="M152,325 l9,0 M155,323 l1,-2 l2,1"/></g>
<g clip-path="url(#ce1)">
<path d="M26.30,363.80 Q26.80,379.90 26.55,394.50" stroke="#a8a8a8" stroke-width="1.2" fill="none"/>
<path d="M42.80,362.80 Q41.80,379.40 42.30,394.50" stroke="#a8a8a8" stroke-width="1.2" fill="none"/>
<path d="M59.00,364.30 Q59.30,380.15 59.15,394.50" stroke="#a8a8a8" stroke-width="1.2" fill="none"/>
<path d="M77.00,364.30 Q77.40,380.15 77.20,394.50" stroke="#a8a8a8" stroke-width="1.2" fill="none"/>
<clipPath id="mc0"><path d="M26.30,327.80 C26.89,327.80 27.50,328.60 28.06,329.28 C28.62,329.96 29.15,330.94 29.66,331.87 C30.17,332.80 30.54,333.84 31.10,334.83 C31.66,335.82 32.67,336.74 33.02,337.79 C33.37,338.84 33.15,339.70 33.18,341.12 C33.21,342.54 33.13,344.33 33.18,346.30 C33.23,348.27 33.34,350.86 33.50,352.96 C33.66,355.06 33.93,357.40 34.14,358.88 C34.35,360.36 34.46,361.10 34.78,361.84 C35.10,362.58 36.54,362.98 36.06,363.32 C35.58,363.66 33.13,363.63 31.90,363.88 C30.67,364.12 30.03,364.65 28.70,364.80 C27.37,364.95 25.23,364.95 23.90,364.80 C22.57,364.65 21.93,364.12 20.70,363.88 C19.47,363.63 17.02,363.66 16.54,363.32 C16.06,362.98 17.50,362.58 17.82,361.84 C18.14,361.10 18.25,360.36 18.46,358.88 C18.67,357.40 18.94,355.06 19.10,352.96 C19.26,350.86 19.37,348.27 19.42,346.30 C19.47,344.33 19.39,342.54 19.42,341.12 C19.45,339.70 19.23,338.84 19.58,337.79 C19.93,336.74 20.94,335.82 21.50,334.83 C22.06,333.84 22.43,332.80 22.94,331.87 C23.45,330.94 23.98,329.96 24.54,329.28 C25.10,328.60 25.71,327.80 26.30,327.80Z"/></clipPath>
<path d="M26.30,327.80 C26.89,327.80 27.50,328.60 28.06,329.28 C28.62,329.96 29.15,330.94 29.66,331.87 C30.17,332.80 30.54,333.84 31.10,334.83 C31.66,335.82 32.67,336.74 33.02,337.79 C33.37,338.84 33.15,339.70 33.18,341.12 C33.21,342.54 33.13,344.33 33.18,346.30 C33.23,348.27 33.34,350.86 33.50,352.96 C33.66,355.06 33.93,357.40 34.14,358.88 C34.35,360.36 34.46,361.10 34.78,361.84 C35.10,362.58 36.54,362.98 36.06,363.32 C35.58,363.66 33.13,363.63 31.90,363.88 C30.67,364.12 30.03,364.65 28.70,364.80 C27.37,364.95 25.23,364.95 23.90,364.80 C22.57,364.65 21.93,364.12 20.70,363.88 C19.47,363.63 17.02,363.66 16.54,363.32 C16.06,362.98 17.50,362.58 17.82,361.84 C18.14,361.10 18.25,360.36 18.46,358.88 C18.67,357.40 18.94,355.06 19.10,352.96 C19.26,350.86 19.37,348.27 19.42,346.30 C19.47,344.33 19.39,342.54 19.42,341.12 C19.45,339.70 19.23,338.84 19.58,337.79 C19.93,336.74 20.94,335.82 21.50,334.83 C22.06,333.84 22.43,332.80 22.94,331.87 C23.45,330.94 23.98,329.96 24.54,329.28 C25.10,328.60 25.71,327.80 26.30,327.80Z" fill="#2440f4" filter="url(#soft)"/>
<g clip-path="url(#mc0)"><g filter="url(#hb)">
<path d="M17.3,325.8 L35.3,325.8 L35.3,351.8 Q29.3,348.8 24.3,351.8 L21.3,357.8 L17.3,357.8Z" fill="#dcdcdc"/>
<ellipse cx="25.8" cy="333.3" rx="3" ry="3.6" fill="#2440f4"/>
<ellipse cx="26.3" cy="354.8" rx="2.5" ry="3" fill="#40d8c0"/>
<ellipse cx="28.3" cy="360.8" rx="2" ry="2" fill="#38b8ff"/>
<ellipse cx="22.3" cy="361.8" rx="2" ry="2" fill="#50e0a0"/>
</g></g>
<clipPath id="mc1"><path d="M42.80,333.30 C43.60,333.30 44.57,333.35 45.20,333.61 C45.83,333.86 46.21,334.27 46.56,334.82 C46.91,335.38 47.07,336.25 47.28,336.96 C47.49,337.67 47.47,338.33 47.84,339.10 C48.21,339.86 49.20,340.67 49.52,341.54 C49.84,342.40 49.73,343.11 49.76,344.28 C49.79,345.45 49.64,346.92 49.68,348.55 C49.72,350.18 49.84,352.31 50.00,354.04 C50.16,355.77 50.43,357.70 50.64,358.92 C50.85,360.14 50.96,360.75 51.28,361.36 C51.60,361.97 53.04,362.30 52.56,362.58 C52.08,362.86 49.63,362.83 48.40,363.04 C47.17,363.24 46.53,363.67 45.20,363.80 C43.87,363.93 41.73,363.93 40.40,363.80 C39.07,363.67 38.43,363.24 37.20,363.04 C35.97,362.83 33.52,362.86 33.04,362.58 C32.56,362.30 34.00,361.97 34.32,361.36 C34.64,360.75 34.75,360.14 34.96,358.92 C35.17,357.70 35.44,355.77 35.60,354.04 C35.76,352.31 35.88,350.18 35.92,348.55 C35.96,346.92 35.81,345.45 35.84,344.28 C35.87,343.11 35.76,342.40 36.08,341.54 C36.40,340.67 37.39,339.86 37.76,339.10 C38.13,338.33 38.11,337.67 38.32,336.96 C38.53,336.25 38.69,335.38 39.04,334.82 C39.39,334.27 39.77,333.86 40.40,333.61 C41.03,333.35 42.00,333.30 42.80,333.30Z"/></clipPath>
<path d="M42.80,333.30 C43.60,333.30 44.57,333.35 45.20,333.61 C45.83,333.86 46.21,334.27 46.56,334.82 C46.91,335.38 47.07,336.25 47.28,336.96 C47.49,337.67 47.47,338.33 47.84,339.10 C48.21,339.86 49.20,340.67 49.52,341.54 C49.84,342.40 49.73,343.11 49.76,344.28 C49.79,345.45 49.64,346.92 49.68,348.55 C49.72,350.18 49.84,352.31 50.00,354.04 C50.16,355.77 50.43,357.70 50.64,358.92 C50.85,360.14 50.96,360.75 51.28,361.36 C51.60,361.97 53.04,362.30 52.56,362.58 C52.08,362.86 49.63,362.83 48.40,363.04 C47.17,363.24 46.53,363.67 45.20,363.80 C43.87,363.93 41.73,363.93 40.40,363.80 C39.07,363.67 38.43,363.24 37.20,363.04 C35.97,362.83 33.52,362.86 33.04,362.58 C32.56,362.30 34.00,361.97 34.32,361.36 C34.64,360.75 34.75,360.14 34.96,358.92 C35.17,357.70 35.44,355.77 35.60,354.04 C35.76,352.31 35.88,350.18 35.92,348.55 C35.96,346.92 35.81,345.45 35.84,344.28 C35.87,343.11 35.76,342.40 36.08,341.54 C36.40,340.67 37.39,339.86 37.76,339.10 C38.13,338.33 38.11,337.67 38.32,336.96 C38.53,336.25 38.69,335.38 39.04,334.82 C39.39,334.27 39.77,333.86 40.40,333.61 C41.03,333.35 42.00,333.30 42.80,333.30Z" fill="#2440f4" filter="url(#soft)"/>
<g clip-path="url(#mc1)"><g filter="url(#hb)">
<ellipse cx="42.8" cy="336.3" rx="3" ry="2.5" fill="#a0f040"/>
<ellipse cx="41.8" cy="345.3" rx="3.5" ry="6" fill="#40e0a0"/>
<ellipse cx="42.8" cy="346.3" rx="2" ry="3.5" fill="#a8f040"/>
<ellipse cx="44.3" cy="355.3" rx="3" ry="3.5" fill="#60e880"/>
<ellipse cx="39.3" cy="358.3" rx="2" ry="2" fill="#50d8c0"/>
<ellipse cx="37.8" cy="350.3" rx="1.5" ry="2" fill="#40c0e0"/>
</g></g>
<clipPath id="mc2"><path d="M59.00,330.80 C59.60,330.80 60.24,331.55 60.81,332.18 C61.39,332.81 61.94,333.73 62.47,334.60 C62.99,335.46 63.37,336.44 63.95,337.36 C64.53,338.28 65.57,339.14 65.93,340.12 C66.29,341.09 66.07,341.90 66.09,343.22 C66.12,344.54 66.04,346.21 66.09,348.05 C66.15,349.89 66.26,352.31 66.42,354.26 C66.59,356.21 66.86,358.40 67.08,359.78 C67.30,361.16 67.42,361.85 67.75,362.54 C68.08,363.23 69.56,363.60 69.06,363.92 C68.57,364.24 66.04,364.21 64.78,364.44 C63.51,364.67 62.85,365.16 61.48,365.30 C60.10,365.44 57.90,365.44 56.52,365.30 C55.15,365.16 54.49,364.67 53.23,364.44 C51.96,364.21 49.43,364.24 48.94,363.92 C48.44,363.60 49.92,363.23 50.25,362.54 C50.58,361.85 50.70,361.16 50.91,359.78 C51.13,358.40 51.41,356.21 51.58,354.26 C51.74,352.31 51.85,349.89 51.91,348.05 C51.96,346.21 51.88,344.54 51.91,343.22 C51.93,341.90 51.71,341.09 52.07,340.12 C52.43,339.14 53.47,338.28 54.05,337.36 C54.63,336.44 55.01,335.46 55.53,334.60 C56.06,333.73 56.61,332.81 57.19,332.18 C57.76,331.55 58.40,330.80 59.00,330.80Z"/></clipPath>
<path d="M59.00,330.80 C59.60,330.80 60.24,331.55 60.81,332.18 C61.39,332.81 61.94,333.73 62.47,334.60 C62.99,335.46 63.37,336.44 63.95,337.36 C64.53,338.28 65.57,339.14 65.93,340.12 C66.29,341.09 66.07,341.90 66.09,343.22 C66.12,344.54 66.04,346.21 66.09,348.05 C66.15,349.89 66.26,352.31 66.42,354.26 C66.59,356.21 66.86,358.40 67.08,359.78 C67.30,361.16 67.42,361.85 67.75,362.54 C68.08,363.23 69.56,363.60 69.06,363.92 C68.57,364.24 66.04,364.21 64.78,364.44 C63.51,364.67 62.85,365.16 61.48,365.30 C60.10,365.44 57.90,365.44 56.52,365.30 C55.15,365.16 54.49,364.67 53.23,364.44 C51.96,364.21 49.43,364.24 48.94,363.92 C48.44,363.60 49.92,363.23 50.25,362.54 C50.58,361.85 50.70,361.16 50.91,359.78 C51.13,358.40 51.41,356.21 51.58,354.26 C51.74,352.31 51.85,349.89 51.91,348.05 C51.96,346.21 51.88,344.54 51.91,343.22 C51.93,341.90 51.71,341.09 52.07,340.12 C52.43,339.14 53.47,338.28 54.05,337.36 C54.63,336.44 55.01,335.46 55.53,334.60 C56.06,333.73 56.61,332.81 57.19,332.18 C57.76,331.55 58.40,330.80 59.00,330.80Z" fill="#2440f4" filter="url(#soft)"/>
<g clip-path="url(#mc2)"><g filter="url(#hb)">
<ellipse cx="59" cy="335.8" rx="2.2" ry="2.5" fill="#40b8f0"/>
<ellipse cx="55" cy="342.8" rx="2.2" ry="5.5" fill="#e8ecf4"/>
<ellipse cx="60" cy="340.8" rx="1.6" ry="2" fill="#e0e8f4"/>
<ellipse cx="60" cy="348.8" rx="2" ry="3" fill="#40c8e0"/>
<ellipse cx="59.5" cy="359.8" rx="2.5" ry="3" fill="#60e870"/>
<ellipse cx="54" cy="356.8" rx="1.8" ry="2" fill="#40d0c0"/>
</g></g>
<clipPath id="mc3"><path d="M77.00,333.80 C77.83,333.80 78.83,333.85 79.47,334.12 C80.12,334.38 80.52,334.80 80.88,335.38 C81.23,335.95 81.40,336.84 81.62,337.58 C81.84,338.31 81.81,339.00 82.20,339.79 C82.58,340.57 83.60,341.41 83.93,342.31 C84.26,343.20 84.15,343.93 84.18,345.14 C84.20,346.35 84.05,347.87 84.09,349.55 C84.14,351.23 84.26,353.44 84.42,355.22 C84.59,357.00 84.86,359.00 85.08,360.26 C85.30,361.52 85.42,362.15 85.75,362.78 C86.08,363.41 87.56,363.75 87.06,364.04 C86.57,364.33 84.04,364.30 82.78,364.51 C81.51,364.72 80.85,365.17 79.47,365.30 C78.10,365.43 75.90,365.43 74.53,365.30 C73.15,365.17 72.49,364.72 71.22,364.51 C69.96,364.30 67.43,364.33 66.94,364.04 C66.44,363.75 67.92,363.41 68.25,362.78 C68.58,362.15 68.70,361.52 68.92,360.26 C69.14,359.00 69.41,357.00 69.58,355.22 C69.74,353.44 69.86,351.23 69.91,349.55 C69.95,347.87 69.80,346.35 69.82,345.14 C69.85,343.93 69.74,343.20 70.07,342.31 C70.40,341.41 71.42,340.57 71.80,339.79 C72.19,339.00 72.16,338.31 72.38,337.58 C72.60,336.84 72.77,335.95 73.12,335.38 C73.48,334.80 73.88,334.38 74.53,334.12 C75.17,333.85 76.17,333.80 77.00,333.80Z"/></clipPath>
<path d="M77.00,333.80 C77.83,333.80 78.83,333.85 79.47,334.12 C80.12,334.38 80.52,334.80 80.88,335.38 C81.23,335.95 81.40,336.84 81.62,337.58 C81.84,338.31 81.81,339.00 82.20,339.79 C82.58,340.57 83.60,341.41 83.93,342.31 C84.26,343.20 84.15,343.93 84.18,345.14 C84.20,346.35 84.05,347.87 84.09,349.55 C84.14,351.23 84.26,353.44 84.42,355.22 C84.59,357.00 84.86,359.00 85.08,360.26 C85.30,361.52 85.42,362.15 85.75,362.78 C86.08,363.41 87.56,363.75 87.06,364.04 C86.57,364.33 84.04,364.30 82.78,364.51 C81.51,364.72 80.85,365.17 79.47,365.30 C78.10,365.43 75.90,365.43 74.53,365.30 C73.15,365.17 72.49,364.72 71.22,364.51 C69.96,364.30 67.43,364.33 66.94,364.04 C66.44,363.75 67.92,363.41 68.25,362.78 C68.58,362.15 68.70,361.52 68.92,360.26 C69.14,359.00 69.41,357.00 69.58,355.22 C69.74,353.44 69.86,351.23 69.91,349.55 C69.95,347.87 69.80,346.35 69.82,345.14 C69.85,343.93 69.74,343.20 70.07,342.31 C70.40,341.41 71.42,340.57 71.80,339.79 C72.19,339.00 72.16,338.31 72.38,337.58 C72.60,336.84 72.77,335.95 73.12,335.38 C73.48,334.80 73.88,334.38 74.53,334.12 C75.17,333.85 76.17,333.80 77.00,333.80Z" fill="#2440f4" filter="url(#soft)"/>
<g clip-path="url(#mc3)"><g filter="url(#hb)">
<ellipse cx="77" cy="337.3" rx="2.8" ry="2.5" fill="#a8f040"/>
<ellipse cx="77" cy="351.8" rx="5.2" ry="12" fill="#50e070"/>
<ellipse cx="77" cy="353.8" rx="3.6" ry="8.5" fill="#e8e820"/>
<ellipse cx="77.5" cy="355.8" rx="2.3" ry="7" fill="#f22a10"/>
</g></g>
</g>
<g clip-path="url(#ce2)"><g filter="url(#soft)">
<path d="M109.00,365.80 Q109.30,380.90 109.15,394.50" stroke="#a8a8a8" stroke-width="1.2" fill="none"/>
<path d="M126.30,364.80 Q126.50,380.40 126.40,394.50" stroke="#a8a8a8" stroke-width="1.2" fill="none"/>
<path d="M143.00,367.30 Q143.60,381.65 143.30,394.50" stroke="#a8a8a8" stroke-width="1.2" fill="none"/>
<path d="M158.50,366.80 Q158.80,381.40 158.65,394.50" stroke="#a8a8a8" stroke-width="1.2" fill="none"/>
<path d="M109.00,326.30 C109.64,326.30 110.31,327.18 110.92,327.92 C111.54,328.66 112.12,329.74 112.67,330.75 C113.23,331.77 113.64,332.92 114.25,334.00 C114.86,335.07 115.97,336.09 116.35,337.24 C116.73,338.38 116.50,339.33 116.53,340.88 C116.55,342.43 116.47,344.39 116.53,346.55 C116.58,348.71 116.70,351.55 116.88,353.84 C117.05,356.14 117.34,358.70 117.58,360.32 C117.81,361.94 117.93,362.75 118.28,363.56 C118.62,364.37 120.20,364.81 119.67,365.18 C119.15,365.55 116.47,365.52 115.12,365.79 C113.78,366.06 113.08,366.63 111.62,366.80 C110.17,366.97 107.83,366.97 106.38,366.80 C104.92,366.63 104.22,366.06 102.88,365.79 C101.53,365.52 98.85,365.55 98.33,365.18 C97.80,364.81 99.38,364.37 99.72,363.56 C100.07,362.75 100.19,361.94 100.42,360.32 C100.66,358.70 100.95,356.14 101.12,353.84 C101.30,351.55 101.42,348.71 101.47,346.55 C101.53,344.39 101.45,342.43 101.47,340.88 C101.50,339.33 101.27,338.38 101.65,337.24 C102.03,336.09 103.14,335.07 103.75,334.00 C104.36,332.92 104.77,331.77 105.33,330.75 C105.88,329.74 106.46,328.66 107.08,327.92 C107.69,327.18 108.36,326.30 109.00,326.30Z" fill="url(#mw)"/>
<path d="M109.00,326.30 C109.64,326.30 110.31,327.18 110.92,327.92 C111.54,328.66 112.12,329.74 112.67,330.75 C113.23,331.77 113.64,332.92 114.25,334.00 C114.86,335.07 115.97,336.09 116.35,337.24 C116.73,338.38 116.50,339.33 116.53,340.88 C116.55,342.43 116.47,344.39 116.53,346.55 C116.58,348.71 116.70,351.55 116.88,353.84 C117.05,356.14 117.34,358.70 117.58,360.32 C117.81,361.94 117.93,362.75 118.28,363.56 C118.62,364.37 120.20,364.81 119.67,365.18 C119.15,365.55 116.47,365.52 115.12,365.79 C113.78,366.06 113.08,366.63 111.62,366.80 C110.17,366.97 107.83,366.97 106.38,366.80 C104.92,366.63 104.22,366.06 102.88,365.79 C101.53,365.52 98.85,365.55 98.33,365.18 C97.80,364.81 99.38,364.37 99.72,363.56 C100.07,362.75 100.19,361.94 100.42,360.32 C100.66,358.70 100.95,356.14 101.12,353.84 C101.30,351.55 101.42,348.71 101.47,346.55 C101.53,344.39 101.45,342.43 101.47,340.88 C101.50,339.33 101.27,338.38 101.65,337.24 C102.03,336.09 103.14,335.07 103.75,334.00 C104.36,332.92 104.77,331.77 105.33,330.75 C105.88,329.74 106.46,328.66 107.08,327.92 C107.69,327.18 108.36,326.30 109.00,326.30Z" fill="#fff" filter="url(#mtex)" opacity="0.5"/>
<path d="M126.30,333.80 C127.10,333.80 128.07,333.85 128.70,334.12 C129.33,334.39 129.71,334.81 130.06,335.40 C130.41,335.99 130.57,336.89 130.78,337.64 C130.99,338.39 130.97,339.08 131.34,339.88 C131.71,340.68 132.70,341.53 133.02,342.44 C133.34,343.35 133.23,344.09 133.26,345.32 C133.29,346.55 133.14,348.09 133.18,349.80 C133.22,351.51 133.34,353.75 133.50,355.56 C133.66,357.37 133.93,359.40 134.14,360.68 C134.35,361.96 134.46,362.60 134.78,363.24 C135.10,363.88 136.54,364.23 136.06,364.52 C135.58,364.81 133.13,364.79 131.90,365.00 C130.67,365.21 130.03,365.67 128.70,365.80 C127.37,365.93 125.23,365.93 123.90,365.80 C122.57,365.67 121.93,365.21 120.70,365.00 C119.47,364.79 117.02,364.81 116.54,364.52 C116.06,364.23 117.50,363.88 117.82,363.24 C118.14,362.60 118.25,361.96 118.46,360.68 C118.67,359.40 118.94,357.37 119.10,355.56 C119.26,353.75 119.38,351.51 119.42,349.80 C119.46,348.09 119.31,346.55 119.34,345.32 C119.37,344.09 119.26,343.35 119.58,342.44 C119.90,341.53 120.89,340.68 121.26,339.88 C121.63,339.08 121.61,338.39 121.82,337.64 C122.03,336.89 122.19,335.99 122.54,335.40 C122.89,334.81 123.27,334.39 123.90,334.12 C124.53,333.85 125.50,333.80 126.30,333.80Z" fill="url(#mw)"/>
<path d="M126.30,333.80 C127.10,333.80 128.07,333.85 128.70,334.12 C129.33,334.39 129.71,334.81 130.06,335.40 C130.41,335.99 130.57,336.89 130.78,337.64 C130.99,338.39 130.97,339.08 131.34,339.88 C131.71,340.68 132.70,341.53 133.02,342.44 C133.34,343.35 133.23,344.09 133.26,345.32 C133.29,346.55 133.14,348.09 133.18,349.80 C133.22,351.51 133.34,353.75 133.50,355.56 C133.66,357.37 133.93,359.40 134.14,360.68 C134.35,361.96 134.46,362.60 134.78,363.24 C135.10,363.88 136.54,364.23 136.06,364.52 C135.58,364.81 133.13,364.79 131.90,365.00 C130.67,365.21 130.03,365.67 128.70,365.80 C127.37,365.93 125.23,365.93 123.90,365.80 C122.57,365.67 121.93,365.21 120.70,365.00 C119.47,364.79 117.02,364.81 116.54,364.52 C116.06,364.23 117.50,363.88 117.82,363.24 C118.14,362.60 118.25,361.96 118.46,360.68 C118.67,359.40 118.94,357.37 119.10,355.56 C119.26,353.75 119.38,351.51 119.42,349.80 C119.46,348.09 119.31,346.55 119.34,345.32 C119.37,344.09 119.26,343.35 119.58,342.44 C119.90,341.53 120.89,340.68 121.26,339.88 C121.63,339.08 121.61,338.39 121.82,337.64 C122.03,336.89 122.19,335.99 122.54,335.40 C122.89,334.81 123.27,334.39 123.90,334.12 C124.53,333.85 125.50,333.80 126.30,333.80Z" fill="#fff" filter="url(#mtex)" opacity="0.5"/>
<path d="M143.00,331.80 C143.62,331.80 144.28,332.59 144.87,333.26 C145.47,333.93 146.03,334.90 146.57,335.81 C147.11,336.73 147.50,337.76 148.10,338.74 C148.69,339.71 149.77,340.62 150.14,341.66 C150.51,342.69 150.28,343.54 150.31,344.94 C150.34,346.34 150.25,348.10 150.31,350.05 C150.37,352.00 150.48,354.55 150.65,356.62 C150.82,358.69 151.10,361.00 151.33,362.46 C151.56,363.92 151.67,364.65 152.01,365.38 C152.35,366.11 153.88,366.51 153.37,366.84 C152.86,367.17 150.25,367.14 148.95,367.39 C147.65,367.63 146.97,368.15 145.55,368.30 C144.13,368.45 141.87,368.45 140.45,368.30 C139.03,368.15 138.35,367.63 137.05,367.39 C135.75,367.14 133.14,367.17 132.63,366.84 C132.12,366.51 133.65,366.11 133.99,365.38 C134.33,364.65 134.44,363.92 134.67,362.46 C134.90,361.00 135.18,358.69 135.35,356.62 C135.52,354.55 135.63,352.00 135.69,350.05 C135.75,348.10 135.66,346.34 135.69,344.94 C135.72,343.54 135.49,342.69 135.86,341.66 C136.23,340.62 137.31,339.71 137.90,338.74 C138.50,337.76 138.89,336.73 139.43,335.81 C139.97,334.90 140.53,333.93 141.13,333.26 C141.72,332.59 142.38,331.80 143.00,331.80Z" fill="url(#mw)"/>
<path d="M143.00,331.80 C143.62,331.80 144.28,332.59 144.87,333.26 C145.47,333.93 146.03,334.90 146.57,335.81 C147.11,336.73 147.50,337.76 148.10,338.74 C148.69,339.71 149.77,340.62 150.14,341.66 C150.51,342.69 150.28,343.54 150.31,344.94 C150.34,346.34 150.25,348.10 150.31,350.05 C150.37,352.00 150.48,354.55 150.65,356.62 C150.82,358.69 151.10,361.00 151.33,362.46 C151.56,363.92 151.67,364.65 152.01,365.38 C152.35,366.11 153.88,366.51 153.37,366.84 C152.86,367.17 150.25,367.14 148.95,367.39 C147.65,367.63 146.97,368.15 145.55,368.30 C144.13,368.45 141.87,368.45 140.45,368.30 C139.03,368.15 138.35,367.63 137.05,367.39 C135.75,367.14 133.14,367.17 132.63,366.84 C132.12,366.51 133.65,366.11 133.99,365.38 C134.33,364.65 134.44,363.92 134.67,362.46 C134.90,361.00 135.18,358.69 135.35,356.62 C135.52,354.55 135.63,352.00 135.69,350.05 C135.75,348.10 135.66,346.34 135.69,344.94 C135.72,343.54 135.49,342.69 135.86,341.66 C136.23,340.62 137.31,339.71 137.90,338.74 C138.50,337.76 138.89,336.73 139.43,335.81 C139.97,334.90 140.53,333.93 141.13,333.26 C141.72,332.59 142.38,331.80 143.00,331.80Z" fill="#fff" filter="url(#mtex)" opacity="0.5"/>
<path d="M158.50,333.80 C159.30,333.80 160.27,333.86 160.90,334.14 C161.53,334.42 161.91,334.88 162.26,335.50 C162.61,336.12 162.77,337.09 162.98,337.88 C163.19,338.67 163.17,339.41 163.54,340.26 C163.91,341.11 164.90,342.02 165.22,342.98 C165.54,343.94 165.43,344.74 165.46,346.04 C165.49,347.34 165.34,348.99 165.38,350.80 C165.42,352.61 165.54,354.99 165.70,356.92 C165.86,358.85 166.13,361.00 166.34,362.36 C166.55,363.72 166.66,364.40 166.98,365.08 C167.30,365.76 168.74,366.13 168.26,366.44 C167.78,366.75 165.33,366.72 164.10,366.95 C162.87,367.18 162.23,367.66 160.90,367.80 C159.57,367.94 157.43,367.94 156.10,367.80 C154.77,367.66 154.13,367.18 152.90,366.95 C151.67,366.72 149.22,366.75 148.74,366.44 C148.26,366.13 149.70,365.76 150.02,365.08 C150.34,364.40 150.45,363.72 150.66,362.36 C150.87,361.00 151.14,358.85 151.30,356.92 C151.46,354.99 151.58,352.61 151.62,350.80 C151.66,348.99 151.51,347.34 151.54,346.04 C151.57,344.74 151.46,343.94 151.78,342.98 C152.10,342.02 153.09,341.11 153.46,340.26 C153.83,339.41 153.81,338.67 154.02,337.88 C154.23,337.09 154.39,336.12 154.74,335.50 C155.09,334.88 155.47,334.42 156.10,334.14 C156.73,333.86 157.70,333.80 158.50,333.80Z" fill="url(#mw)"/>
<path d="M158.50,333.80 C159.30,333.80 160.27,333.86 160.90,334.14 C161.53,334.42 161.91,334.88 162.26,335.50 C162.61,336.12 162.77,337.09 162.98,337.88 C163.19,338.67 163.17,339.41 163.54,340.26 C163.91,341.11 164.90,342.02 165.22,342.98 C165.54,343.94 165.43,344.74 165.46,346.04 C165.49,347.34 165.34,348.99 165.38,350.80 C165.42,352.61 165.54,354.99 165.70,356.92 C165.86,358.85 166.13,361.00 166.34,362.36 C166.55,363.72 166.66,364.40 166.98,365.08 C167.30,365.76 168.74,366.13 168.26,366.44 C167.78,366.75 165.33,366.72 164.10,366.95 C162.87,367.18 162.23,367.66 160.90,367.80 C159.57,367.94 157.43,367.94 156.10,367.80 C154.77,367.66 154.13,367.18 152.90,366.95 C151.67,366.72 149.22,366.75 148.74,366.44 C148.26,366.13 149.70,365.76 150.02,365.08 C150.34,364.40 150.45,363.72 150.66,362.36 C150.87,361.00 151.14,358.85 151.30,356.92 C151.46,354.99 151.58,352.61 151.62,350.80 C151.66,348.99 151.51,347.34 151.54,346.04 C151.57,344.74 151.46,343.94 151.78,342.98 C152.10,342.02 153.09,341.11 153.46,340.26 C153.83,339.41 153.81,338.67 154.02,337.88 C154.23,337.09 154.39,336.12 154.74,335.50 C155.09,334.88 155.47,334.42 156.10,334.14 C156.73,333.86 157.70,333.80 158.50,333.80Z" fill="#fff" filter="url(#mtex)" opacity="0.5"/>
</g></g>
<rect x="0.6" y="0.6" width="518.8" height="414.8" fill="none" stroke="#000" stroke-width="1.3"/>
</svg>
</body></html>
